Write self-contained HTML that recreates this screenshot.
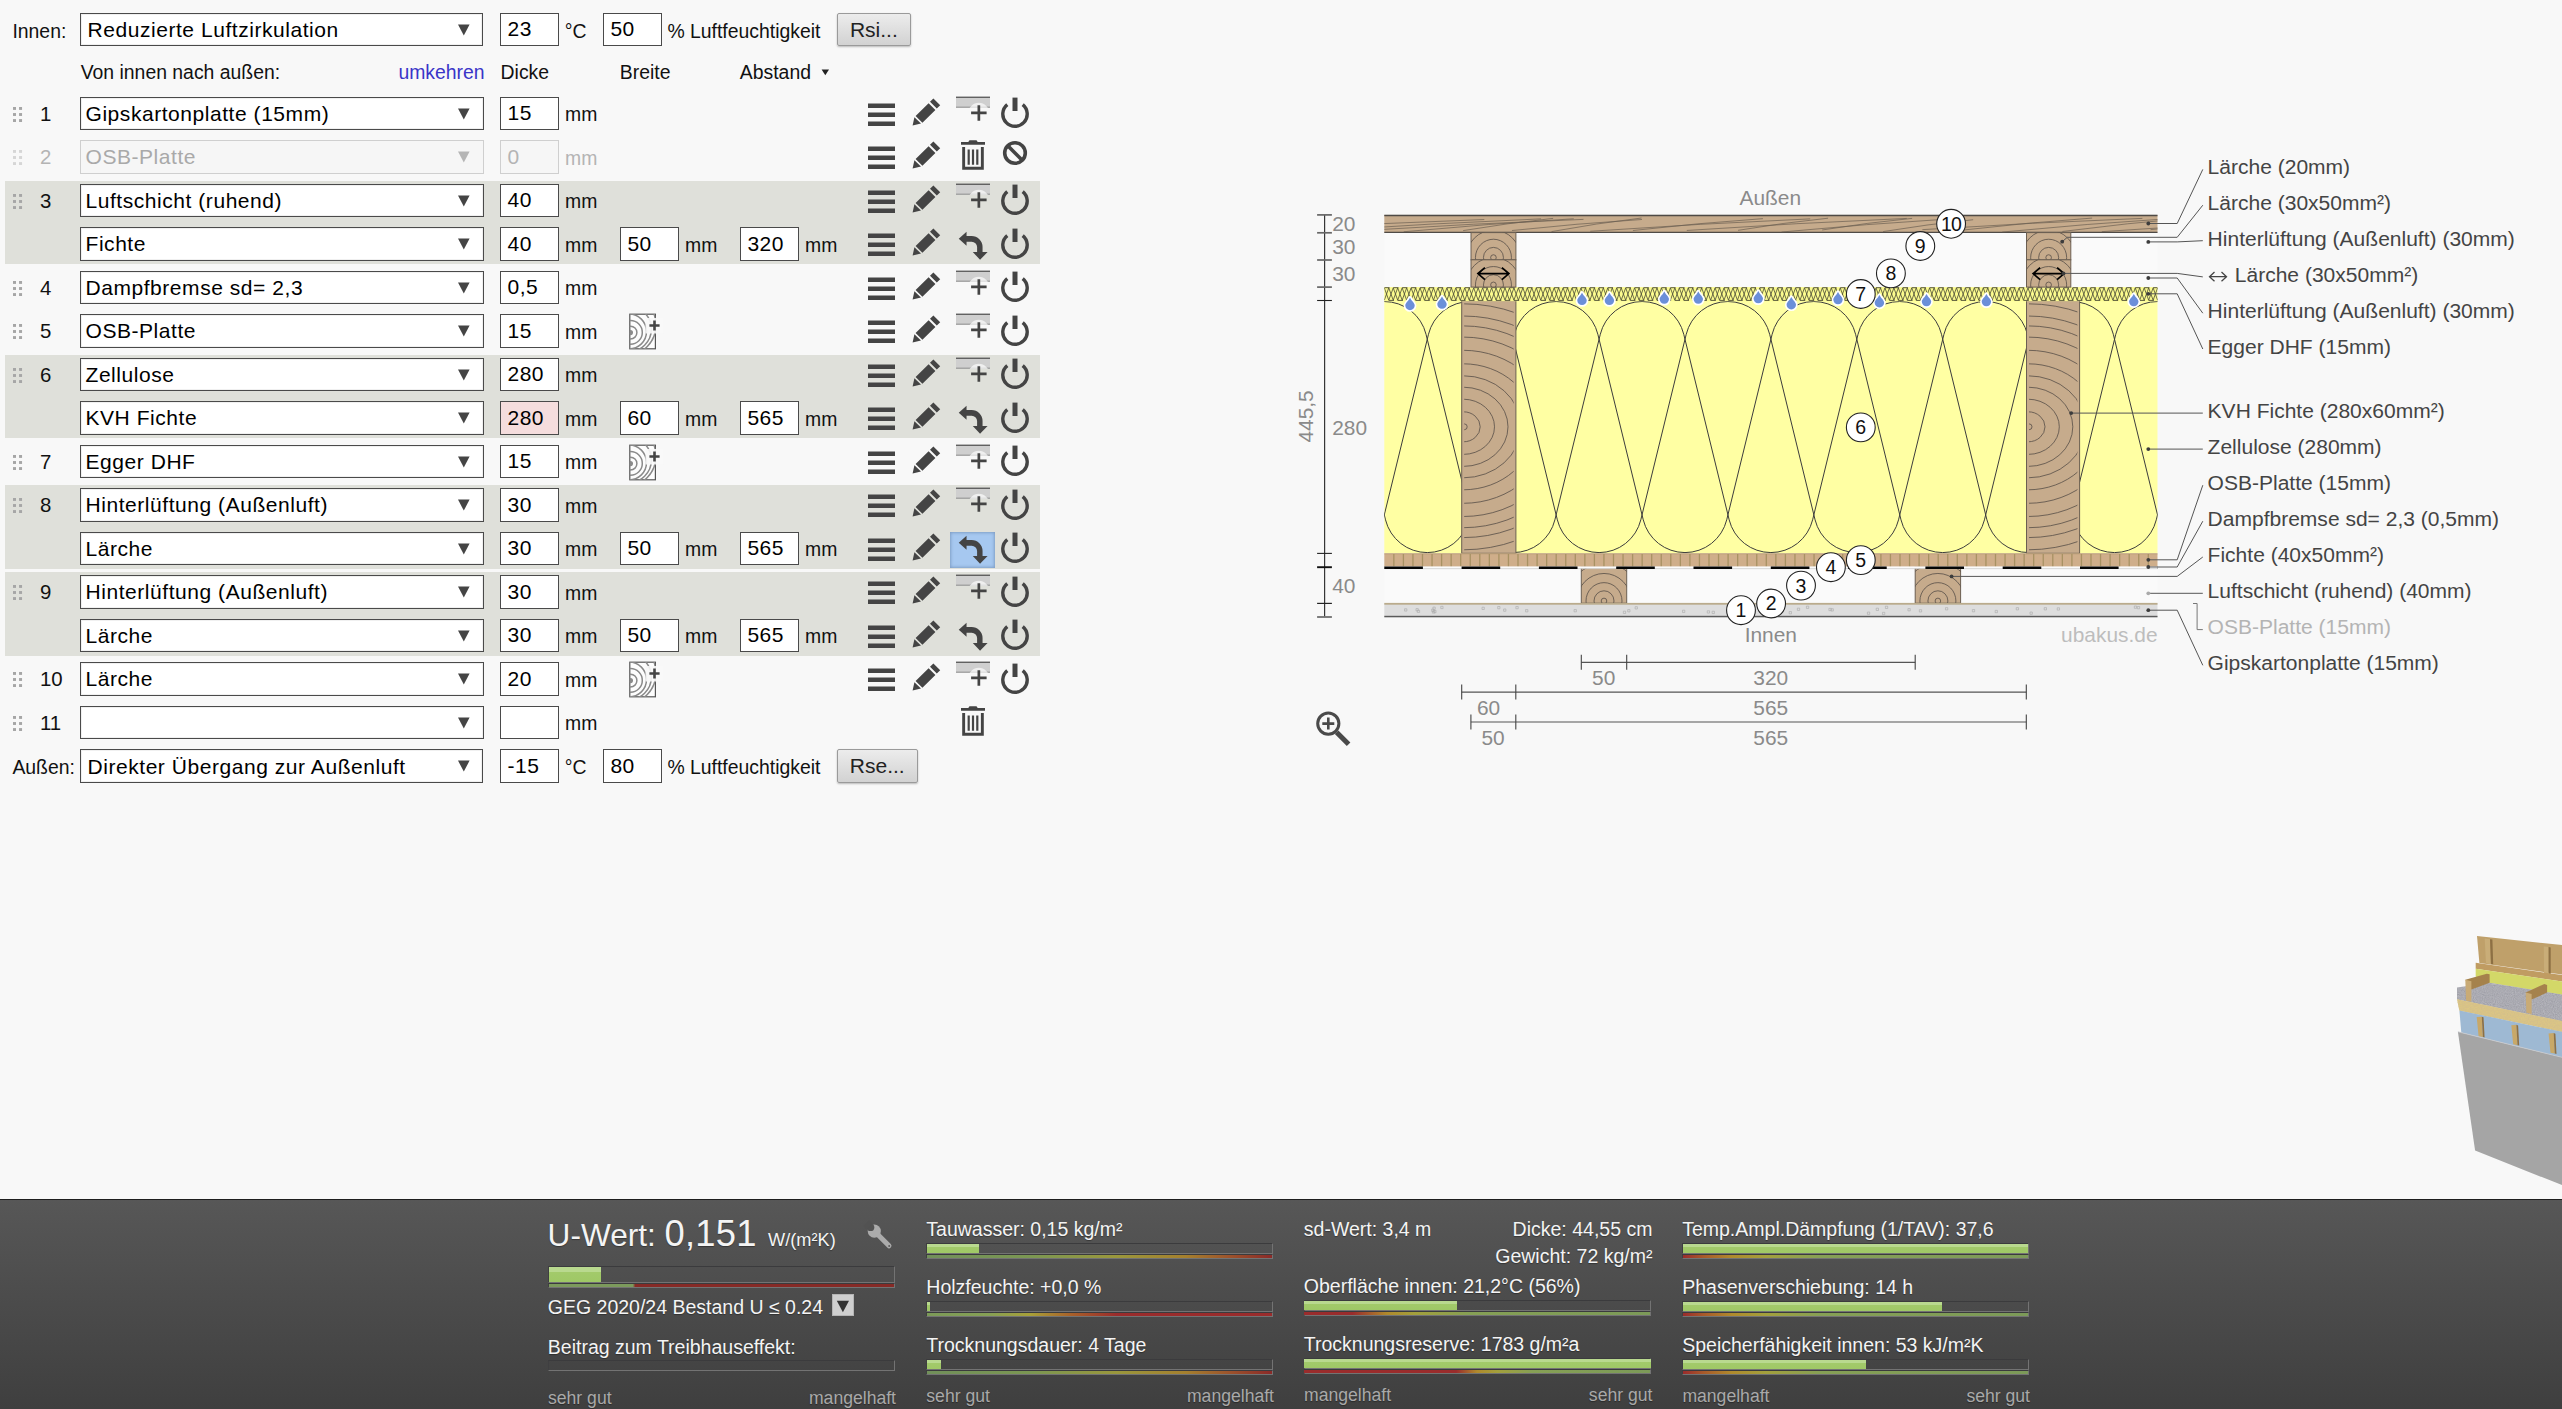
<!DOCTYPE html>
<html><head><meta charset="utf-8"><title>ubakus</title>
<style>
html,body{margin:0;padding:0}
body{width:2562px;height:1409px;overflow:hidden;position:relative;background:#f8f8f8;font-family:"Liberation Sans",sans-serif}

.ic{position:absolute;display:block;overflow:visible}
.lb{position:absolute;height:30px;line-height:30px;font-size:19.4px;color:#111;white-space:nowrap}
.lb.mm{color:#111}
.lb.num{font-size:20.4px}
.lb.disl{color:#b4b4b4}
.lb.link{color:#3a35c8}
.st{position:relative;top:0.8px}
.sel{position:absolute;box-sizing:border-box;border:1px solid #4a4a4a;background:#fff;font-size:21px;letter-spacing:0.55px;color:#000;white-space:nowrap;overflow:hidden;box-shadow:inset 0 0 0 1px #f0f0f0}
.sel.dis{border-color:#cfcfcf;background:#f6f6f6;color:#a9a9a9;box-shadow:none}
.inp{position:absolute;box-sizing:border-box;border:1px solid #4a4a4a;background:#fff;font-size:21px;letter-spacing:0.45px;color:#000;padding-left:6.6px;white-space:nowrap;overflow:hidden}
.inp.dis{border-color:#cfcfcf;background:#f6f6f6;color:#b4b4b4}
.inp.pink{background:#f5dddd}
.btn{position:absolute;box-sizing:border-box;border:1px solid #9a9a9a;border-radius:2px;background:linear-gradient(#ececec,#d2d2d2);font-size:21px;color:#222;text-align:center;box-shadow:0 1px 2px rgba(0,0,0,.25)}
.grp{position:absolute;left:5px;width:1034.7px;height:83.6px;background:#dfe0da}
.hl{position:absolute;width:44.8px;height:35.8px;background:#a6c8f0;box-shadow:inset 0 0 3px 1px #7f9fc6}


#bb{position:absolute;left:0;top:1199.4px;width:2562px;height:210px;background:linear-gradient(#575757,#3f3f3f);border-top:1.6px solid #1e1e1e;box-sizing:border-box}
.bt{position:absolute;height:30px;line-height:30px;white-space:nowrap;text-shadow:0 1px 1px rgba(0,0,0,.35)}
.bx{position:absolute}
.bo{position:absolute;left:0;top:0;width:100%;box-sizing:border-box;border-top:1px solid #3b3b3d;border-left:0.8px solid #3f3f41;border-bottom:0.9px solid #737373;border-right:1px solid #737373}
.bf{position:absolute;background:linear-gradient(#b9d98f 0,#b9d98f 30%,#a2ca6a 36%,#9fc866 100%)}
.bg{position:absolute;left:0.8px;right:1px}

</style></head><body>
<div class="lb" style="left:12.4px;top:15.5px;">Innen:</div>
<div class="sel" style="left:80px;top:12.80px;width:402.8px;height:33.6px;line-height:31px;padding-left:6.5px"><span class="st" style="top:0.6px">Reduzierte Luftzirkulation</span><svg style="position:absolute;left:375.59999999999997px;top:9.90px" width="14" height="12" viewBox="0 0 14 12"><path d="M1 0.6h11.6L6.8 11.6z" fill="#444"/></svg></div>
<div class="inp" style="left:500px;top:12.80px;width:59px;height:33.6px;line-height:31px"><span class="st" style="top:-0.5px">23</span></div>
<div class="lb" style="left:564.7px;top:15.5px;">°C</div>
<div class="inp" style="left:602.8px;top:12.80px;width:59px;height:33.6px;line-height:31px"><span class="st" style="top:-0.5px">50</span></div>
<div class="lb" style="left:667.4px;top:15.5px;">% Luftfeuchtigkeit</div>
<div class="btn" style="left:837px;top:12.600000000000001px;width:73.6px;height:33.8px;line-height:32.6px">Rsi...</div>
<div class="lb" style="left:80.7px;top:57px;">Von innen nach außen:</div>
<div class="lb link" style="left:398.4px;top:57px;">umkehren</div>
<div class="lb" style="left:500.6px;top:57px;">Dicke</div>
<div class="lb" style="left:619.8px;top:57px;">Breite</div>
<div class="lb" style="left:739.8px;top:57px;">Abstand</div>
<svg class="ic" style="left:821px;top:68.5px" width="9" height="7" viewBox="0 0 9 7"><path d="M0.6 0.6h7.4L4.3 6.2z" fill="#222"/></svg>
<svg class="ic" style="left:12.95px;top:106.60px" width="10" height="16" viewBox="0 0 10 16"><rect x="0.0" y="0.0" width="3" height="2.9" fill="#a6a6a6"/><rect x="6.05" y="0.0" width="3" height="2.9" fill="#a6a6a6"/><rect x="0.0" y="6.05" width="3" height="2.9" fill="#a6a6a6"/><rect x="6.05" y="6.05" width="3" height="2.9" fill="#a6a6a6"/><rect x="0.0" y="12.1" width="3" height="2.9" fill="#a6a6a6"/><rect x="6.05" y="12.1" width="3" height="2.9" fill="#a6a6a6"/></svg>
<div class="lb num" style="left:40px;top:98.6px;">1</div>
<div class="sel" style="left:80px;top:96.80px;width:403.7px;height:33.6px;line-height:31px;padding-left:4.5px"><span class="st" style="top:-0.1px">Gipskartonplatte (15mm)</span><svg style="position:absolute;left:375.59999999999997px;top:9.90px" width="14" height="12" viewBox="0 0 14 12"><path d="M1 0.6h11.6L6.8 11.6z" fill="#444"/></svg></div>
<div class="inp" style="left:500px;top:96.80px;width:59px;height:33.6px;line-height:31px"><span class="st" style="top:-0.5px">15</span></div>
<div class="lb mm" style="left:565px;top:99.1px;">mm</div>
<svg class="ic" style="left:867.0px;top:98.65px" width="29" height="30" viewBox="0 0 29 30"><path d="M1 4.5h27v4.6H1zM1 13.5h27v4.6H1zM1 22.5h27v4.6H1z" fill="#444"/></svg>
<svg class="ic" style="left:910.7px;top:96.5px" width="30" height="30" viewBox="0 0 30 30"><path d="M1.6 28.4 L3.4 20.3 L10 26.5 Z M4.6 19 L17.6 6.2 L24.4 13 L11.4 25.8 Z M19 4.8 L22.4 1.4 L29.2 8.2 L25.8 11.6 Z" fill="#444"/></svg>
<svg class="ic" style="left:955px;top:95.7px" width="36" height="30" viewBox="0 0 36 30"><rect x="1" y="1.2" width="34" height="10.3" fill="#cfcfcf"/><rect x="1" y="0.6" width="34" height="1.3" fill="#555"/><rect x="1" y="10.6" width="34" height="1.2" fill="#999"/><clipPath id="sl1"><rect x="1" y="1.9" width="34" height="10"/></clipPath><circle cx="23.8" cy="17.4" r="10.6" fill="#fff" fill-opacity="0.66" clip-path="url(#sl1)"/><path d="M22.5 9.2h2.7v6.4h6.4v2.7h-6.4v6.4h-2.7v-6.4h-6.4v-2.7h6.4z" fill="#444"/></svg>
<svg class="ic" style="left:999px;top:97.3px" width="32" height="34" viewBox="0 0 32 34"><path d="M8.3 7.6 A12.2 12.2 0 1 0 23.7 7.6" fill="none" stroke="#444" stroke-width="3.4"/><rect x="13.5" y="0.6" width="5" height="13.4" fill="#444"/></svg>
<svg class="ic" style="left:12.95px;top:150.10px" width="10" height="16" viewBox="0 0 10 16"><rect x="0.0" y="0.0" width="3" height="2.9" fill="#d6d6d6"/><rect x="6.05" y="0.0" width="3" height="2.9" fill="#d6d6d6"/><rect x="0.0" y="6.05" width="3" height="2.9" fill="#d6d6d6"/><rect x="6.05" y="6.05" width="3" height="2.9" fill="#d6d6d6"/><rect x="0.0" y="12.1" width="3" height="2.9" fill="#d6d6d6"/><rect x="6.05" y="12.1" width="3" height="2.9" fill="#d6d6d6"/></svg>
<div class="lb num disl" style="left:40px;top:142.1px;">2</div>
<div class="sel dis" style="left:80px;top:140.30px;width:403.7px;height:33.6px;line-height:31px;padding-left:4.5px"><span class="st" style="top:-0.1px">OSB-Platte</span><svg style="position:absolute;left:375.59999999999997px;top:9.90px" width="14" height="12" viewBox="0 0 14 12"><path d="M1 0.6h11.6L6.8 11.6z" fill="#b5b5b5"/></svg></div>
<div class="inp dis" style="left:500px;top:140.30px;width:59px;height:33.6px;line-height:31px"><span class="st" style="top:-0.5px">0</span></div>
<div class="lb mm disl" style="left:565px;top:142.6px;">mm</div>
<svg class="ic" style="left:867.0px;top:142.15px" width="29" height="30" viewBox="0 0 29 30"><path d="M1 4.5h27v4.6H1zM1 13.5h27v4.6H1zM1 22.5h27v4.6H1z" fill="#444"/></svg>
<svg class="ic" style="left:910.7px;top:140.0px" width="30" height="30" viewBox="0 0 30 30"><path d="M1.6 28.4 L3.4 20.3 L10 26.5 Z M4.6 19 L17.6 6.2 L24.4 13 L11.4 25.8 Z M19 4.8 L22.4 1.4 L29.2 8.2 L25.8 11.6 Z" fill="#444"/></svg>
<svg class="ic" style="left:960px;top:139.3px" width="26" height="32" viewBox="0 0 26 32"><path d="M9.5 1.2h7l1.2 1.8h7.3v2.8H1V3h7.3z M2.2 8h2.9v19.8h15.8V8h2.9v22.8H2.2z M7.6 10.5h2.2v15.2H7.6z M11.9 10.5h2.2v15.2h-2.2z M16.2 10.5h2.2v15.2h-2.2z" fill="#444"/></svg>
<svg class="ic" style="left:1002px;top:140.2px" width="26" height="26" viewBox="0 0 26 26"><circle cx="13" cy="13" r="10.3" fill="none" stroke="#444" stroke-width="3.6"/><path d="M5.8 5.8L20.2 20.2" stroke="#444" stroke-width="3.6"/></svg>
<div class="grp" style="top:180.80px"></div>
<svg class="ic" style="left:12.95px;top:193.60px" width="10" height="16" viewBox="0 0 10 16"><rect x="0.0" y="0.0" width="3" height="2.9" fill="#a6a6a6"/><rect x="6.05" y="0.0" width="3" height="2.9" fill="#a6a6a6"/><rect x="0.0" y="6.05" width="3" height="2.9" fill="#a6a6a6"/><rect x="6.05" y="6.05" width="3" height="2.9" fill="#a6a6a6"/><rect x="0.0" y="12.1" width="3" height="2.9" fill="#a6a6a6"/><rect x="6.05" y="12.1" width="3" height="2.9" fill="#a6a6a6"/></svg>
<div class="lb num" style="left:40px;top:185.6px;">3</div>
<div class="sel" style="left:80px;top:183.80px;width:403.7px;height:33.6px;line-height:31px;padding-left:4.5px"><span class="st" style="top:-0.1px">Luftschicht (ruhend)</span><svg style="position:absolute;left:375.59999999999997px;top:9.90px" width="14" height="12" viewBox="0 0 14 12"><path d="M1 0.6h11.6L6.8 11.6z" fill="#444"/></svg></div>
<div class="inp" style="left:500px;top:183.80px;width:59px;height:33.6px;line-height:31px"><span class="st" style="top:-0.5px">40</span></div>
<div class="lb mm" style="left:565px;top:186.1px;">mm</div>
<svg class="ic" style="left:867.0px;top:185.65px" width="29" height="30" viewBox="0 0 29 30"><path d="M1 4.5h27v4.6H1zM1 13.5h27v4.6H1zM1 22.5h27v4.6H1z" fill="#444"/></svg>
<svg class="ic" style="left:910.7px;top:183.5px" width="30" height="30" viewBox="0 0 30 30"><path d="M1.6 28.4 L3.4 20.3 L10 26.5 Z M4.6 19 L17.6 6.2 L24.4 13 L11.4 25.8 Z M19 4.8 L22.4 1.4 L29.2 8.2 L25.8 11.6 Z" fill="#444"/></svg>
<svg class="ic" style="left:955px;top:182.7px" width="36" height="30" viewBox="0 0 36 30"><rect x="1" y="1.2" width="34" height="10.3" fill="#cfcfcf"/><rect x="1" y="0.6" width="34" height="1.3" fill="#555"/><rect x="1" y="10.6" width="34" height="1.2" fill="#999"/><clipPath id="sl2"><rect x="1" y="1.9" width="34" height="10"/></clipPath><circle cx="23.8" cy="17.4" r="10.6" fill="#fff" fill-opacity="0.66" clip-path="url(#sl2)"/><path d="M22.5 9.2h2.7v6.4h6.4v2.7h-6.4v6.4h-2.7v-6.4h-6.4v-2.7h6.4z" fill="#444"/></svg>
<svg class="ic" style="left:999px;top:184.3px" width="32" height="34" viewBox="0 0 32 34"><path d="M8.3 7.6 A12.2 12.2 0 1 0 23.7 7.6" fill="none" stroke="#444" stroke-width="3.4"/><rect x="13.5" y="0.6" width="5" height="13.4" fill="#444"/></svg>
<div class="sel" style="left:80px;top:227.30px;width:403.7px;height:33.6px;line-height:31px;padding-left:4.5px"><span class="st" style="top:-0.1px">Fichte</span><svg style="position:absolute;left:375.59999999999997px;top:9.90px" width="14" height="12" viewBox="0 0 14 12"><path d="M1 0.6h11.6L6.8 11.6z" fill="#444"/></svg></div>
<div class="inp" style="left:500px;top:227.30px;width:59px;height:33.6px;line-height:31px"><span class="st" style="top:-0.5px">40</span></div>
<div class="lb mm" style="left:565px;top:229.6px;">mm</div>
<div class="inp" style="left:619.8px;top:227.30px;width:59px;height:33.6px;line-height:31px"><span class="st" style="top:-0.5px">50</span></div>
<div class="lb mm" style="left:685px;top:229.6px;">mm</div>
<div class="inp" style="left:739.8px;top:227.30px;width:59px;height:33.6px;line-height:31px"><span class="st" style="top:-0.5px">320</span></div>
<div class="lb mm" style="left:805px;top:229.6px;">mm</div>
<svg class="ic" style="left:867.0px;top:229.15px" width="29" height="30" viewBox="0 0 29 30"><path d="M1 4.5h27v4.6H1zM1 13.5h27v4.6H1zM1 22.5h27v4.6H1z" fill="#444"/></svg>
<svg class="ic" style="left:910.7px;top:227.0px" width="30" height="30" viewBox="0 0 30 30"><path d="M1.6 28.4 L3.4 20.3 L10 26.5 Z M4.6 19 L17.6 6.2 L24.4 13 L11.4 25.8 Z M19 4.8 L22.4 1.4 L29.2 8.2 L25.8 11.6 Z" fill="#444"/></svg>
<svg class="ic" style="left:950.2px;top:227.50px" width="45" height="36" viewBox="0 0 45 36"><path d="M8.74 10.77 L16.55 3.75 L16.55 8.04 L21.6 8.04 A10.95 10.95 0 0 1 32.55 19 L32.55 24.04 L37.6 24.04 L30.05 31.85 L22.8 24.04 L27.09 24.04 L27.09 19 A5.45 5.45 0 0 0 21.6 13.66 L16.55 13.66 L16.55 17.8 Z" fill="#444"/></svg>
<svg class="ic" style="left:999px;top:227.8px" width="32" height="34" viewBox="0 0 32 34"><path d="M8.3 7.6 A12.2 12.2 0 1 0 23.7 7.6" fill="none" stroke="#444" stroke-width="3.4"/><rect x="13.5" y="0.6" width="5" height="13.4" fill="#444"/></svg>
<svg class="ic" style="left:12.95px;top:280.60px" width="10" height="16" viewBox="0 0 10 16"><rect x="0.0" y="0.0" width="3" height="2.9" fill="#a6a6a6"/><rect x="6.05" y="0.0" width="3" height="2.9" fill="#a6a6a6"/><rect x="0.0" y="6.05" width="3" height="2.9" fill="#a6a6a6"/><rect x="6.05" y="6.05" width="3" height="2.9" fill="#a6a6a6"/><rect x="0.0" y="12.1" width="3" height="2.9" fill="#a6a6a6"/><rect x="6.05" y="12.1" width="3" height="2.9" fill="#a6a6a6"/></svg>
<div class="lb num" style="left:40px;top:272.6px;">4</div>
<div class="sel" style="left:80px;top:270.80px;width:403.7px;height:33.6px;line-height:31px;padding-left:4.5px"><span class="st" style="top:-0.1px">Dampfbremse sd= 2,3</span><svg style="position:absolute;left:375.59999999999997px;top:9.90px" width="14" height="12" viewBox="0 0 14 12"><path d="M1 0.6h11.6L6.8 11.6z" fill="#444"/></svg></div>
<div class="inp" style="left:500px;top:270.80px;width:59px;height:33.6px;line-height:31px"><span class="st" style="top:-0.5px">0,5</span></div>
<div class="lb mm" style="left:565px;top:273.1px;">mm</div>
<svg class="ic" style="left:867.0px;top:272.65px" width="29" height="30" viewBox="0 0 29 30"><path d="M1 4.5h27v4.6H1zM1 13.5h27v4.6H1zM1 22.5h27v4.6H1z" fill="#444"/></svg>
<svg class="ic" style="left:910.7px;top:270.5px" width="30" height="30" viewBox="0 0 30 30"><path d="M1.6 28.4 L3.4 20.3 L10 26.5 Z M4.6 19 L17.6 6.2 L24.4 13 L11.4 25.8 Z M19 4.8 L22.4 1.4 L29.2 8.2 L25.8 11.6 Z" fill="#444"/></svg>
<svg class="ic" style="left:955px;top:269.7px" width="36" height="30" viewBox="0 0 36 30"><rect x="1" y="1.2" width="34" height="10.3" fill="#cfcfcf"/><rect x="1" y="0.6" width="34" height="1.3" fill="#555"/><rect x="1" y="10.6" width="34" height="1.2" fill="#999"/><clipPath id="sl3"><rect x="1" y="1.9" width="34" height="10"/></clipPath><circle cx="23.8" cy="17.4" r="10.6" fill="#fff" fill-opacity="0.66" clip-path="url(#sl3)"/><path d="M22.5 9.2h2.7v6.4h6.4v2.7h-6.4v6.4h-2.7v-6.4h-6.4v-2.7h6.4z" fill="#444"/></svg>
<svg class="ic" style="left:999px;top:271.3px" width="32" height="34" viewBox="0 0 32 34"><path d="M8.3 7.6 A12.2 12.2 0 1 0 23.7 7.6" fill="none" stroke="#444" stroke-width="3.4"/><rect x="13.5" y="0.6" width="5" height="13.4" fill="#444"/></svg>
<svg class="ic" style="left:12.95px;top:324.10px" width="10" height="16" viewBox="0 0 10 16"><rect x="0.0" y="0.0" width="3" height="2.9" fill="#a6a6a6"/><rect x="6.05" y="0.0" width="3" height="2.9" fill="#a6a6a6"/><rect x="0.0" y="6.05" width="3" height="2.9" fill="#a6a6a6"/><rect x="6.05" y="6.05" width="3" height="2.9" fill="#a6a6a6"/><rect x="0.0" y="12.1" width="3" height="2.9" fill="#a6a6a6"/><rect x="6.05" y="12.1" width="3" height="2.9" fill="#a6a6a6"/></svg>
<div class="lb num" style="left:40px;top:316.1px;">5</div>
<div class="sel" style="left:80px;top:314.30px;width:403.7px;height:33.6px;line-height:31px;padding-left:4.5px"><span class="st" style="top:-0.1px">OSB-Platte</span><svg style="position:absolute;left:375.59999999999997px;top:9.90px" width="14" height="12" viewBox="0 0 14 12"><path d="M1 0.6h11.6L6.8 11.6z" fill="#444"/></svg></div>
<div class="inp" style="left:500px;top:314.30px;width:59px;height:33.6px;line-height:31px"><span class="st" style="top:-0.5px">15</span></div>
<div class="lb mm" style="left:565px;top:316.6px;">mm</div>
<svg class="ic" style="left:628.6px;top:313.2px" width="36" height="38" viewBox="0 0 36 38"><defs><clipPath id="wc4"><rect x="0.8" y="1" width="25.6" height="35"/></clipPath></defs><rect x="0.8" y="1.2" width="25.6" height="34.6" fill="#fdfdfd" stroke="#555" stroke-width="1.2"/><g clip-path="url(#wc4)" fill="none" stroke="#8a8a8a" stroke-width="1.5"><circle cx="1.5" cy="19.6" r="1.8" fill="#8a8a8a"/><circle cx="1.5" cy="19.6" r="6.4"/><circle cx="1.5" cy="19.4" r="11.8"/><ellipse cx="0" cy="18.5" rx="17.5" ry="17.5"/><ellipse cx="-1" cy="16" rx="23.4" ry="23"/><ellipse cx="-2" cy="12" rx="29" ry="30"/></g><rect x="16.5" y="5" width="18" height="15.5" fill="#f8f8f8" fill-opacity="0.9"/><path d="M24.2 7.4h2.6v3.8h3.8v2.6h-3.8v3.8h-2.6v-3.8h-3.8v-2.6h3.8z" fill="#444"/></svg>
<svg class="ic" style="left:867.0px;top:316.15px" width="29" height="30" viewBox="0 0 29 30"><path d="M1 4.5h27v4.6H1zM1 13.5h27v4.6H1zM1 22.5h27v4.6H1z" fill="#444"/></svg>
<svg class="ic" style="left:910.7px;top:314.0px" width="30" height="30" viewBox="0 0 30 30"><path d="M1.6 28.4 L3.4 20.3 L10 26.5 Z M4.6 19 L17.6 6.2 L24.4 13 L11.4 25.8 Z M19 4.8 L22.4 1.4 L29.2 8.2 L25.8 11.6 Z" fill="#444"/></svg>
<svg class="ic" style="left:955px;top:313.2px" width="36" height="30" viewBox="0 0 36 30"><rect x="1" y="1.2" width="34" height="10.3" fill="#cfcfcf"/><rect x="1" y="0.6" width="34" height="1.3" fill="#555"/><rect x="1" y="10.6" width="34" height="1.2" fill="#999"/><clipPath id="sl5"><rect x="1" y="1.9" width="34" height="10"/></clipPath><circle cx="23.8" cy="17.4" r="10.6" fill="#fff" fill-opacity="0.66" clip-path="url(#sl5)"/><path d="M22.5 9.2h2.7v6.4h6.4v2.7h-6.4v6.4h-2.7v-6.4h-6.4v-2.7h6.4z" fill="#444"/></svg>
<svg class="ic" style="left:999px;top:314.8px" width="32" height="34" viewBox="0 0 32 34"><path d="M8.3 7.6 A12.2 12.2 0 1 0 23.7 7.6" fill="none" stroke="#444" stroke-width="3.4"/><rect x="13.5" y="0.6" width="5" height="13.4" fill="#444"/></svg>
<div class="grp" style="top:354.80px"></div>
<svg class="ic" style="left:12.95px;top:367.60px" width="10" height="16" viewBox="0 0 10 16"><rect x="0.0" y="0.0" width="3" height="2.9" fill="#a6a6a6"/><rect x="6.05" y="0.0" width="3" height="2.9" fill="#a6a6a6"/><rect x="0.0" y="6.05" width="3" height="2.9" fill="#a6a6a6"/><rect x="6.05" y="6.05" width="3" height="2.9" fill="#a6a6a6"/><rect x="0.0" y="12.1" width="3" height="2.9" fill="#a6a6a6"/><rect x="6.05" y="12.1" width="3" height="2.9" fill="#a6a6a6"/></svg>
<div class="lb num" style="left:40px;top:359.6px;">6</div>
<div class="sel" style="left:80px;top:357.80px;width:403.7px;height:33.6px;line-height:31px;padding-left:4.5px"><span class="st" style="top:-0.1px">Zellulose</span><svg style="position:absolute;left:375.59999999999997px;top:9.90px" width="14" height="12" viewBox="0 0 14 12"><path d="M1 0.6h11.6L6.8 11.6z" fill="#444"/></svg></div>
<div class="inp" style="left:500px;top:357.80px;width:59px;height:33.6px;line-height:31px"><span class="st" style="top:-0.5px">280</span></div>
<div class="lb mm" style="left:565px;top:360.1px;">mm</div>
<svg class="ic" style="left:867.0px;top:359.65px" width="29" height="30" viewBox="0 0 29 30"><path d="M1 4.5h27v4.6H1zM1 13.5h27v4.6H1zM1 22.5h27v4.6H1z" fill="#444"/></svg>
<svg class="ic" style="left:910.7px;top:357.5px" width="30" height="30" viewBox="0 0 30 30"><path d="M1.6 28.4 L3.4 20.3 L10 26.5 Z M4.6 19 L17.6 6.2 L24.4 13 L11.4 25.8 Z M19 4.8 L22.4 1.4 L29.2 8.2 L25.8 11.6 Z" fill="#444"/></svg>
<svg class="ic" style="left:955px;top:356.7px" width="36" height="30" viewBox="0 0 36 30"><rect x="1" y="1.2" width="34" height="10.3" fill="#cfcfcf"/><rect x="1" y="0.6" width="34" height="1.3" fill="#555"/><rect x="1" y="10.6" width="34" height="1.2" fill="#999"/><clipPath id="sl6"><rect x="1" y="1.9" width="34" height="10"/></clipPath><circle cx="23.8" cy="17.4" r="10.6" fill="#fff" fill-opacity="0.66" clip-path="url(#sl6)"/><path d="M22.5 9.2h2.7v6.4h6.4v2.7h-6.4v6.4h-2.7v-6.4h-6.4v-2.7h6.4z" fill="#444"/></svg>
<svg class="ic" style="left:999px;top:358.3px" width="32" height="34" viewBox="0 0 32 34"><path d="M8.3 7.6 A12.2 12.2 0 1 0 23.7 7.6" fill="none" stroke="#444" stroke-width="3.4"/><rect x="13.5" y="0.6" width="5" height="13.4" fill="#444"/></svg>
<div class="sel" style="left:80px;top:401.30px;width:403.7px;height:33.6px;line-height:31px;padding-left:4.5px"><span class="st" style="top:-0.1px">KVH Fichte</span><svg style="position:absolute;left:375.59999999999997px;top:9.90px" width="14" height="12" viewBox="0 0 14 12"><path d="M1 0.6h11.6L6.8 11.6z" fill="#444"/></svg></div>
<div class="inp pink" style="left:500px;top:401.30px;width:59px;height:33.6px;line-height:31px"><span class="st" style="top:-0.5px">280</span></div>
<div class="lb mm" style="left:565px;top:403.6px;">mm</div>
<div class="inp" style="left:619.8px;top:401.30px;width:59px;height:33.6px;line-height:31px"><span class="st" style="top:-0.5px">60</span></div>
<div class="lb mm" style="left:685px;top:403.6px;">mm</div>
<div class="inp" style="left:739.8px;top:401.30px;width:59px;height:33.6px;line-height:31px"><span class="st" style="top:-0.5px">565</span></div>
<div class="lb mm" style="left:805px;top:403.6px;">mm</div>
<svg class="ic" style="left:867.0px;top:403.15px" width="29" height="30" viewBox="0 0 29 30"><path d="M1 4.5h27v4.6H1zM1 13.5h27v4.6H1zM1 22.5h27v4.6H1z" fill="#444"/></svg>
<svg class="ic" style="left:910.7px;top:401.0px" width="30" height="30" viewBox="0 0 30 30"><path d="M1.6 28.4 L3.4 20.3 L10 26.5 Z M4.6 19 L17.6 6.2 L24.4 13 L11.4 25.8 Z M19 4.8 L22.4 1.4 L29.2 8.2 L25.8 11.6 Z" fill="#444"/></svg>
<svg class="ic" style="left:950.2px;top:401.50px" width="45" height="36" viewBox="0 0 45 36"><path d="M8.74 10.77 L16.55 3.75 L16.55 8.04 L21.6 8.04 A10.95 10.95 0 0 1 32.55 19 L32.55 24.04 L37.6 24.04 L30.05 31.85 L22.8 24.04 L27.09 24.04 L27.09 19 A5.45 5.45 0 0 0 21.6 13.66 L16.55 13.66 L16.55 17.8 Z" fill="#444"/></svg>
<svg class="ic" style="left:999px;top:401.8px" width="32" height="34" viewBox="0 0 32 34"><path d="M8.3 7.6 A12.2 12.2 0 1 0 23.7 7.6" fill="none" stroke="#444" stroke-width="3.4"/><rect x="13.5" y="0.6" width="5" height="13.4" fill="#444"/></svg>
<svg class="ic" style="left:12.95px;top:454.60px" width="10" height="16" viewBox="0 0 10 16"><rect x="0.0" y="0.0" width="3" height="2.9" fill="#a6a6a6"/><rect x="6.05" y="0.0" width="3" height="2.9" fill="#a6a6a6"/><rect x="0.0" y="6.05" width="3" height="2.9" fill="#a6a6a6"/><rect x="6.05" y="6.05" width="3" height="2.9" fill="#a6a6a6"/><rect x="0.0" y="12.1" width="3" height="2.9" fill="#a6a6a6"/><rect x="6.05" y="12.1" width="3" height="2.9" fill="#a6a6a6"/></svg>
<div class="lb num" style="left:40px;top:446.6px;">7</div>
<div class="sel" style="left:80px;top:444.80px;width:403.7px;height:33.6px;line-height:31px;padding-left:4.5px"><span class="st" style="top:-0.1px">Egger DHF</span><svg style="position:absolute;left:375.59999999999997px;top:9.90px" width="14" height="12" viewBox="0 0 14 12"><path d="M1 0.6h11.6L6.8 11.6z" fill="#444"/></svg></div>
<div class="inp" style="left:500px;top:444.80px;width:59px;height:33.6px;line-height:31px"><span class="st" style="top:-0.5px">15</span></div>
<div class="lb mm" style="left:565px;top:447.1px;">mm</div>
<svg class="ic" style="left:628.6px;top:443.7px" width="36" height="38" viewBox="0 0 36 38"><defs><clipPath id="wc7"><rect x="0.8" y="1" width="25.6" height="35"/></clipPath></defs><rect x="0.8" y="1.2" width="25.6" height="34.6" fill="#fdfdfd" stroke="#555" stroke-width="1.2"/><g clip-path="url(#wc7)" fill="none" stroke="#8a8a8a" stroke-width="1.5"><circle cx="1.5" cy="19.6" r="1.8" fill="#8a8a8a"/><circle cx="1.5" cy="19.6" r="6.4"/><circle cx="1.5" cy="19.4" r="11.8"/><ellipse cx="0" cy="18.5" rx="17.5" ry="17.5"/><ellipse cx="-1" cy="16" rx="23.4" ry="23"/><ellipse cx="-2" cy="12" rx="29" ry="30"/></g><rect x="16.5" y="5" width="18" height="15.5" fill="#f8f8f8" fill-opacity="0.9"/><path d="M24.2 7.4h2.6v3.8h3.8v2.6h-3.8v3.8h-2.6v-3.8h-3.8v-2.6h3.8z" fill="#444"/></svg>
<svg class="ic" style="left:867.0px;top:446.65px" width="29" height="30" viewBox="0 0 29 30"><path d="M1 4.5h27v4.6H1zM1 13.5h27v4.6H1zM1 22.5h27v4.6H1z" fill="#444"/></svg>
<svg class="ic" style="left:910.7px;top:444.5px" width="30" height="30" viewBox="0 0 30 30"><path d="M1.6 28.4 L3.4 20.3 L10 26.5 Z M4.6 19 L17.6 6.2 L24.4 13 L11.4 25.8 Z M19 4.8 L22.4 1.4 L29.2 8.2 L25.8 11.6 Z" fill="#444"/></svg>
<svg class="ic" style="left:955px;top:443.7px" width="36" height="30" viewBox="0 0 36 30"><rect x="1" y="1.2" width="34" height="10.3" fill="#cfcfcf"/><rect x="1" y="0.6" width="34" height="1.3" fill="#555"/><rect x="1" y="10.6" width="34" height="1.2" fill="#999"/><clipPath id="sl8"><rect x="1" y="1.9" width="34" height="10"/></clipPath><circle cx="23.8" cy="17.4" r="10.6" fill="#fff" fill-opacity="0.66" clip-path="url(#sl8)"/><path d="M22.5 9.2h2.7v6.4h6.4v2.7h-6.4v6.4h-2.7v-6.4h-6.4v-2.7h6.4z" fill="#444"/></svg>
<svg class="ic" style="left:999px;top:445.3px" width="32" height="34" viewBox="0 0 32 34"><path d="M8.3 7.6 A12.2 12.2 0 1 0 23.7 7.6" fill="none" stroke="#444" stroke-width="3.4"/><rect x="13.5" y="0.6" width="5" height="13.4" fill="#444"/></svg>
<div class="grp" style="top:485.30px"></div>
<svg class="ic" style="left:12.95px;top:498.10px" width="10" height="16" viewBox="0 0 10 16"><rect x="0.0" y="0.0" width="3" height="2.9" fill="#a6a6a6"/><rect x="6.05" y="0.0" width="3" height="2.9" fill="#a6a6a6"/><rect x="0.0" y="6.05" width="3" height="2.9" fill="#a6a6a6"/><rect x="6.05" y="6.05" width="3" height="2.9" fill="#a6a6a6"/><rect x="0.0" y="12.1" width="3" height="2.9" fill="#a6a6a6"/><rect x="6.05" y="12.1" width="3" height="2.9" fill="#a6a6a6"/></svg>
<div class="lb num" style="left:40px;top:490.1px;">8</div>
<div class="sel" style="left:80px;top:488.30px;width:403.7px;height:33.6px;line-height:31px;padding-left:4.5px"><span class="st" style="top:-0.1px">Hinterlüftung (Außenluft)</span><svg style="position:absolute;left:375.59999999999997px;top:9.90px" width="14" height="12" viewBox="0 0 14 12"><path d="M1 0.6h11.6L6.8 11.6z" fill="#444"/></svg></div>
<div class="inp" style="left:500px;top:488.30px;width:59px;height:33.6px;line-height:31px"><span class="st" style="top:-0.5px">30</span></div>
<div class="lb mm" style="left:565px;top:490.6px;">mm</div>
<svg class="ic" style="left:867.0px;top:490.15px" width="29" height="30" viewBox="0 0 29 30"><path d="M1 4.5h27v4.6H1zM1 13.5h27v4.6H1zM1 22.5h27v4.6H1z" fill="#444"/></svg>
<svg class="ic" style="left:910.7px;top:488.0px" width="30" height="30" viewBox="0 0 30 30"><path d="M1.6 28.4 L3.4 20.3 L10 26.5 Z M4.6 19 L17.6 6.2 L24.4 13 L11.4 25.8 Z M19 4.8 L22.4 1.4 L29.2 8.2 L25.8 11.6 Z" fill="#444"/></svg>
<svg class="ic" style="left:955px;top:487.2px" width="36" height="30" viewBox="0 0 36 30"><rect x="1" y="1.2" width="34" height="10.3" fill="#cfcfcf"/><rect x="1" y="0.6" width="34" height="1.3" fill="#555"/><rect x="1" y="10.6" width="34" height="1.2" fill="#999"/><clipPath id="sl9"><rect x="1" y="1.9" width="34" height="10"/></clipPath><circle cx="23.8" cy="17.4" r="10.6" fill="#fff" fill-opacity="0.66" clip-path="url(#sl9)"/><path d="M22.5 9.2h2.7v6.4h6.4v2.7h-6.4v6.4h-2.7v-6.4h-6.4v-2.7h6.4z" fill="#444"/></svg>
<svg class="ic" style="left:999px;top:488.8px" width="32" height="34" viewBox="0 0 32 34"><path d="M8.3 7.6 A12.2 12.2 0 1 0 23.7 7.6" fill="none" stroke="#444" stroke-width="3.4"/><rect x="13.5" y="0.6" width="5" height="13.4" fill="#444"/></svg>
<div class="sel" style="left:80px;top:531.80px;width:403.7px;height:33.6px;line-height:31px;padding-left:4.5px"><span class="st" style="top:-0.1px">Lärche</span><svg style="position:absolute;left:375.59999999999997px;top:9.90px" width="14" height="12" viewBox="0 0 14 12"><path d="M1 0.6h11.6L6.8 11.6z" fill="#444"/></svg></div>
<div class="inp" style="left:500px;top:531.80px;width:59px;height:33.6px;line-height:31px"><span class="st" style="top:-0.5px">30</span></div>
<div class="lb mm" style="left:565px;top:534.1px;">mm</div>
<div class="inp" style="left:619.8px;top:531.80px;width:59px;height:33.6px;line-height:31px"><span class="st" style="top:-0.5px">50</span></div>
<div class="lb mm" style="left:685px;top:534.1px;">mm</div>
<div class="inp" style="left:739.8px;top:531.80px;width:59px;height:33.6px;line-height:31px"><span class="st" style="top:-0.5px">565</span></div>
<div class="lb mm" style="left:805px;top:534.1px;">mm</div>
<svg class="ic" style="left:867.0px;top:533.65px" width="29" height="30" viewBox="0 0 29 30"><path d="M1 4.5h27v4.6H1zM1 13.5h27v4.6H1zM1 22.5h27v4.6H1z" fill="#444"/></svg>
<svg class="ic" style="left:910.7px;top:531.5px" width="30" height="30" viewBox="0 0 30 30"><path d="M1.6 28.4 L3.4 20.3 L10 26.5 Z M4.6 19 L17.6 6.2 L24.4 13 L11.4 25.8 Z M19 4.8 L22.4 1.4 L29.2 8.2 L25.8 11.6 Z" fill="#444"/></svg>
<div class="hl" style="left:950.2px;top:532.0px"></div>
<svg class="ic" style="left:950.2px;top:532.00px" width="45" height="36" viewBox="0 0 45 36"><path d="M8.74 10.77 L16.55 3.75 L16.55 8.04 L21.6 8.04 A10.95 10.95 0 0 1 32.55 19 L32.55 24.04 L37.6 24.04 L30.05 31.85 L22.8 24.04 L27.09 24.04 L27.09 19 A5.45 5.45 0 0 0 21.6 13.66 L16.55 13.66 L16.55 17.8 Z" fill="#444"/></svg>
<svg class="ic" style="left:999px;top:532.3px" width="32" height="34" viewBox="0 0 32 34"><path d="M8.3 7.6 A12.2 12.2 0 1 0 23.7 7.6" fill="none" stroke="#444" stroke-width="3.4"/><rect x="13.5" y="0.6" width="5" height="13.4" fill="#444"/></svg>
<div class="grp" style="top:572.30px"></div>
<svg class="ic" style="left:12.95px;top:585.10px" width="10" height="16" viewBox="0 0 10 16"><rect x="0.0" y="0.0" width="3" height="2.9" fill="#a6a6a6"/><rect x="6.05" y="0.0" width="3" height="2.9" fill="#a6a6a6"/><rect x="0.0" y="6.05" width="3" height="2.9" fill="#a6a6a6"/><rect x="6.05" y="6.05" width="3" height="2.9" fill="#a6a6a6"/><rect x="0.0" y="12.1" width="3" height="2.9" fill="#a6a6a6"/><rect x="6.05" y="12.1" width="3" height="2.9" fill="#a6a6a6"/></svg>
<div class="lb num" style="left:40px;top:577.1px;">9</div>
<div class="sel" style="left:80px;top:575.30px;width:403.7px;height:33.6px;line-height:31px;padding-left:4.5px"><span class="st" style="top:-0.1px">Hinterlüftung (Außenluft)</span><svg style="position:absolute;left:375.59999999999997px;top:9.90px" width="14" height="12" viewBox="0 0 14 12"><path d="M1 0.6h11.6L6.8 11.6z" fill="#444"/></svg></div>
<div class="inp" style="left:500px;top:575.30px;width:59px;height:33.6px;line-height:31px"><span class="st" style="top:-0.5px">30</span></div>
<div class="lb mm" style="left:565px;top:577.6px;">mm</div>
<svg class="ic" style="left:867.0px;top:577.15px" width="29" height="30" viewBox="0 0 29 30"><path d="M1 4.5h27v4.6H1zM1 13.5h27v4.6H1zM1 22.5h27v4.6H1z" fill="#444"/></svg>
<svg class="ic" style="left:910.7px;top:575.0px" width="30" height="30" viewBox="0 0 30 30"><path d="M1.6 28.4 L3.4 20.3 L10 26.5 Z M4.6 19 L17.6 6.2 L24.4 13 L11.4 25.8 Z M19 4.8 L22.4 1.4 L29.2 8.2 L25.8 11.6 Z" fill="#444"/></svg>
<svg class="ic" style="left:955px;top:574.2px" width="36" height="30" viewBox="0 0 36 30"><rect x="1" y="1.2" width="34" height="10.3" fill="#cfcfcf"/><rect x="1" y="0.6" width="34" height="1.3" fill="#555"/><rect x="1" y="10.6" width="34" height="1.2" fill="#999"/><clipPath id="sl10"><rect x="1" y="1.9" width="34" height="10"/></clipPath><circle cx="23.8" cy="17.4" r="10.6" fill="#fff" fill-opacity="0.66" clip-path="url(#sl10)"/><path d="M22.5 9.2h2.7v6.4h6.4v2.7h-6.4v6.4h-2.7v-6.4h-6.4v-2.7h6.4z" fill="#444"/></svg>
<svg class="ic" style="left:999px;top:575.8px" width="32" height="34" viewBox="0 0 32 34"><path d="M8.3 7.6 A12.2 12.2 0 1 0 23.7 7.6" fill="none" stroke="#444" stroke-width="3.4"/><rect x="13.5" y="0.6" width="5" height="13.4" fill="#444"/></svg>
<div class="sel" style="left:80px;top:618.80px;width:403.7px;height:33.6px;line-height:31px;padding-left:4.5px"><span class="st" style="top:-0.1px">Lärche</span><svg style="position:absolute;left:375.59999999999997px;top:9.90px" width="14" height="12" viewBox="0 0 14 12"><path d="M1 0.6h11.6L6.8 11.6z" fill="#444"/></svg></div>
<div class="inp" style="left:500px;top:618.80px;width:59px;height:33.6px;line-height:31px"><span class="st" style="top:-0.5px">30</span></div>
<div class="lb mm" style="left:565px;top:621.1px;">mm</div>
<div class="inp" style="left:619.8px;top:618.80px;width:59px;height:33.6px;line-height:31px"><span class="st" style="top:-0.5px">50</span></div>
<div class="lb mm" style="left:685px;top:621.1px;">mm</div>
<div class="inp" style="left:739.8px;top:618.80px;width:59px;height:33.6px;line-height:31px"><span class="st" style="top:-0.5px">565</span></div>
<div class="lb mm" style="left:805px;top:621.1px;">mm</div>
<svg class="ic" style="left:867.0px;top:620.65px" width="29" height="30" viewBox="0 0 29 30"><path d="M1 4.5h27v4.6H1zM1 13.5h27v4.6H1zM1 22.5h27v4.6H1z" fill="#444"/></svg>
<svg class="ic" style="left:910.7px;top:618.5px" width="30" height="30" viewBox="0 0 30 30"><path d="M1.6 28.4 L3.4 20.3 L10 26.5 Z M4.6 19 L17.6 6.2 L24.4 13 L11.4 25.8 Z M19 4.8 L22.4 1.4 L29.2 8.2 L25.8 11.6 Z" fill="#444"/></svg>
<svg class="ic" style="left:950.2px;top:619.00px" width="45" height="36" viewBox="0 0 45 36"><path d="M8.74 10.77 L16.55 3.75 L16.55 8.04 L21.6 8.04 A10.95 10.95 0 0 1 32.55 19 L32.55 24.04 L37.6 24.04 L30.05 31.85 L22.8 24.04 L27.09 24.04 L27.09 19 A5.45 5.45 0 0 0 21.6 13.66 L16.55 13.66 L16.55 17.8 Z" fill="#444"/></svg>
<svg class="ic" style="left:999px;top:619.3px" width="32" height="34" viewBox="0 0 32 34"><path d="M8.3 7.6 A12.2 12.2 0 1 0 23.7 7.6" fill="none" stroke="#444" stroke-width="3.4"/><rect x="13.5" y="0.6" width="5" height="13.4" fill="#444"/></svg>
<svg class="ic" style="left:12.95px;top:672.10px" width="10" height="16" viewBox="0 0 10 16"><rect x="0.0" y="0.0" width="3" height="2.9" fill="#a6a6a6"/><rect x="6.05" y="0.0" width="3" height="2.9" fill="#a6a6a6"/><rect x="0.0" y="6.05" width="3" height="2.9" fill="#a6a6a6"/><rect x="6.05" y="6.05" width="3" height="2.9" fill="#a6a6a6"/><rect x="0.0" y="12.1" width="3" height="2.9" fill="#a6a6a6"/><rect x="6.05" y="12.1" width="3" height="2.9" fill="#a6a6a6"/></svg>
<div class="lb num" style="left:40px;top:664.1px;">10</div>
<div class="sel" style="left:80px;top:662.30px;width:403.7px;height:33.6px;line-height:31px;padding-left:4.5px"><span class="st" style="top:-0.1px">Lärche</span><svg style="position:absolute;left:375.59999999999997px;top:9.90px" width="14" height="12" viewBox="0 0 14 12"><path d="M1 0.6h11.6L6.8 11.6z" fill="#444"/></svg></div>
<div class="inp" style="left:500px;top:662.30px;width:59px;height:33.6px;line-height:31px"><span class="st" style="top:-0.5px">20</span></div>
<div class="lb mm" style="left:565px;top:664.6px;">mm</div>
<svg class="ic" style="left:628.6px;top:661.2px" width="36" height="38" viewBox="0 0 36 38"><defs><clipPath id="wc11"><rect x="0.8" y="1" width="25.6" height="35"/></clipPath></defs><rect x="0.8" y="1.2" width="25.6" height="34.6" fill="#fdfdfd" stroke="#555" stroke-width="1.2"/><g clip-path="url(#wc11)" fill="none" stroke="#8a8a8a" stroke-width="1.5"><circle cx="1.5" cy="19.6" r="1.8" fill="#8a8a8a"/><circle cx="1.5" cy="19.6" r="6.4"/><circle cx="1.5" cy="19.4" r="11.8"/><ellipse cx="0" cy="18.5" rx="17.5" ry="17.5"/><ellipse cx="-1" cy="16" rx="23.4" ry="23"/><ellipse cx="-2" cy="12" rx="29" ry="30"/></g><rect x="16.5" y="5" width="18" height="15.5" fill="#f8f8f8" fill-opacity="0.9"/><path d="M24.2 7.4h2.6v3.8h3.8v2.6h-3.8v3.8h-2.6v-3.8h-3.8v-2.6h3.8z" fill="#444"/></svg>
<svg class="ic" style="left:867.0px;top:664.15px" width="29" height="30" viewBox="0 0 29 30"><path d="M1 4.5h27v4.6H1zM1 13.5h27v4.6H1zM1 22.5h27v4.6H1z" fill="#444"/></svg>
<svg class="ic" style="left:910.7px;top:662.0px" width="30" height="30" viewBox="0 0 30 30"><path d="M1.6 28.4 L3.4 20.3 L10 26.5 Z M4.6 19 L17.6 6.2 L24.4 13 L11.4 25.8 Z M19 4.8 L22.4 1.4 L29.2 8.2 L25.8 11.6 Z" fill="#444"/></svg>
<svg class="ic" style="left:955px;top:661.2px" width="36" height="30" viewBox="0 0 36 30"><rect x="1" y="1.2" width="34" height="10.3" fill="#cfcfcf"/><rect x="1" y="0.6" width="34" height="1.3" fill="#555"/><rect x="1" y="10.6" width="34" height="1.2" fill="#999"/><clipPath id="sl12"><rect x="1" y="1.9" width="34" height="10"/></clipPath><circle cx="23.8" cy="17.4" r="10.6" fill="#fff" fill-opacity="0.66" clip-path="url(#sl12)"/><path d="M22.5 9.2h2.7v6.4h6.4v2.7h-6.4v6.4h-2.7v-6.4h-6.4v-2.7h6.4z" fill="#444"/></svg>
<svg class="ic" style="left:999px;top:662.8px" width="32" height="34" viewBox="0 0 32 34"><path d="M8.3 7.6 A12.2 12.2 0 1 0 23.7 7.6" fill="none" stroke="#444" stroke-width="3.4"/><rect x="13.5" y="0.6" width="5" height="13.4" fill="#444"/></svg>
<svg class="ic" style="left:12.95px;top:715.60px" width="10" height="16" viewBox="0 0 10 16"><rect x="0.0" y="0.0" width="3" height="2.9" fill="#a6a6a6"/><rect x="6.05" y="0.0" width="3" height="2.9" fill="#a6a6a6"/><rect x="0.0" y="6.05" width="3" height="2.9" fill="#a6a6a6"/><rect x="6.05" y="6.05" width="3" height="2.9" fill="#a6a6a6"/><rect x="0.0" y="12.1" width="3" height="2.9" fill="#a6a6a6"/><rect x="6.05" y="12.1" width="3" height="2.9" fill="#a6a6a6"/></svg>
<div class="lb num" style="left:40px;top:707.6px;">11</div>
<div class="sel" style="left:80px;top:705.80px;width:403.7px;height:33.6px;line-height:31px;padding-left:4.5px"><span class="st" style="top:-0.1px"></span><svg style="position:absolute;left:375.59999999999997px;top:9.90px" width="14" height="12" viewBox="0 0 14 12"><path d="M1 0.6h11.6L6.8 11.6z" fill="#444"/></svg></div>
<div class="inp" style="left:500px;top:705.80px;width:59px;height:33.6px;line-height:31px"><span class="st" style="top:-0.5px"></span></div>
<div class="lb mm" style="left:565px;top:708.1px;">mm</div>
<svg class="ic" style="left:960px;top:704.8px" width="26" height="32" viewBox="0 0 26 32"><path d="M9.5 1.2h7l1.2 1.8h7.3v2.8H1V3h7.3z M2.2 8h2.9v19.8h15.8V8h2.9v22.8H2.2z M7.6 10.5h2.2v15.2H7.6z M11.9 10.5h2.2v15.2h-2.2z M16.2 10.5h2.2v15.2h-2.2z" fill="#444"/></svg>
<div class="lb" style="left:12.4px;top:752px;">Außen:</div>
<div class="sel" style="left:80px;top:749.30px;width:402.8px;height:33.6px;line-height:31px;padding-left:6.5px"><span class="st" style="top:0.6px">Direkter Übergang zur Außenluft</span><svg style="position:absolute;left:375.59999999999997px;top:9.90px" width="14" height="12" viewBox="0 0 14 12"><path d="M1 0.6h11.6L6.8 11.6z" fill="#444"/></svg></div>
<div class="inp" style="left:500px;top:749.30px;width:59px;height:33.6px;line-height:31px"><span class="st" style="top:-0.5px">-15</span></div>
<div class="lb" style="left:564.7px;top:752px;">°C</div>
<div class="inp" style="left:602.8px;top:749.30px;width:59px;height:33.6px;line-height:31px"><span class="st" style="top:-0.5px">80</span></div>
<div class="lb" style="left:667.4px;top:752px;">% Luftfeuchtigkeit</div>
<div class="btn" style="left:837px;top:749.1px;width:80.6px;height:33.8px;line-height:32.6px">Rse...</div>
<svg style="position:absolute;left:1290px;top:140px" width="1272" height="640" viewBox="1290 140 1272 640" font-family="Liberation Sans, sans-serif">
<defs>
<clipPath id="insc"><rect x="1384.3" y="300.6" width="77.40000000000009" height="252.69999999999993"/><rect x="1515.9" y="300.6" width="510.5999999999999" height="252.69999999999993"/><rect x="2079.6" y="300.6" width="77.90000000000009" height="252.69999999999993"/></clipPath>
<clipPath id="dhfc"><rect x="1384.3" y="287.1" width="773.2" height="14.1"/></clipPath>
<clipPath id="tbc"><rect x="1384.3" y="214.9" width="773.2" height="17.69999999999999"/></clipPath>
<clipPath id="c1"><rect x="1471" y="232.6" width="44.90000000000009" height="27.200000000000017"/></clipPath>
<clipPath id="c2"><rect x="1471" y="259.8" width="44.90000000000009" height="27.30000000000001"/></clipPath>
<clipPath id="c3"><rect x="2026.5" y="232.6" width="44.30000000000018" height="27.200000000000017"/></clipPath>
<clipPath id="c4"><rect x="2026.5" y="259.8" width="44.30000000000018" height="27.30000000000001"/></clipPath>
<clipPath id="c5"><rect x="1581.3" y="567.0999999999999" width="45.40000000000009" height="36.100000000000136"/></clipPath>
<clipPath id="c6"><rect x="1915.2" y="567.0999999999999" width="45.399999999999864" height="36.100000000000136"/></clipPath>
<clipPath id="k1"><rect x="1461.7" y="300.6" width="54.200000000000045" height="252.69999999999993"/></clipPath>
<clipPath id="k2"><rect x="2026.5" y="300.6" width="53.09999999999991" height="252.69999999999993"/></clipPath>
<clipPath id="k1i"><rect x="1464.2" y="302.6" width="49.50000000000004" height="248.69999999999993"/></clipPath>
<clipPath id="k2i"><rect x="2029" y="302.6" width="48.399999999999906" height="248.69999999999993"/></clipPath>
</defs>
<rect x="1384.3" y="232.6" width="773.2" height="54.50000000000003" fill="#fafafa"/>
<rect x="1384.3" y="566.8" width="773.2" height="36.40000000000009" fill="#fafafa"/>
<text x="1770.3" y="205.4" text-anchor="middle" font-size="20.9" fill="#8a8a8a">Außen</text>
<text x="1770.8" y="641.8" text-anchor="middle" font-size="20.9" fill="#8a8a8a">Innen</text>
<text x="2157.5" y="641.8" text-anchor="end" font-size="20.9" fill="#bdbdbd">ubakus.de</text>
<rect x="1384.3" y="300.6" width="773.2" height="252.69999999999993" fill="#ffffa3"/>
<g clip-path="url(#insc)"><path d="M1170.75 334.25A42.96 42.96 0 0 1 1254.2 334.25L1299.62 519.85M1170.75 334.25L1125.34 519.85M1213.71 519.85A42.96 42.96 0 0 0 1297.16 519.85M1256.66 334.25A42.96 42.96 0 0 1 1340.11 334.25L1385.53 519.85M1256.66 334.25L1211.25 519.85M1299.62 519.85A42.96 42.96 0 0 0 1383.07 519.85M1342.58 334.25A42.96 42.96 0 0 1 1426.02 334.25L1471.44 519.85M1342.58 334.25L1297.16 519.85M1385.53 519.85A42.96 42.96 0 0 0 1468.98 519.85M1428.49 334.25A42.96 42.96 0 0 1 1511.94 334.25L1557.35 519.85M1428.49 334.25L1383.07 519.85M1471.44 519.85A42.96 42.96 0 0 0 1554.89 519.85M1514.4 334.25A42.96 42.96 0 0 1 1597.85 334.25L1643.26 519.85M1514.4 334.25L1468.98 519.85M1557.35 519.85A42.96 42.96 0 0 0 1640.8 519.85M1600.31 334.25A42.96 42.96 0 0 1 1683.76 334.25L1729.18 519.85M1600.31 334.25L1554.89 519.85M1643.26 519.85A42.96 42.96 0 0 0 1726.71 519.85M1686.22 334.25A42.96 42.96 0 0 1 1769.67 334.25L1815.09 519.85M1686.22 334.25L1640.8 519.85M1729.18 519.85A42.96 42.96 0 0 0 1812.62 519.85M1772.13 334.25A42.96 42.96 0 0 1 1855.58 334.25L1901 519.85M1772.13 334.25L1726.71 519.85M1815.09 519.85A42.96 42.96 0 0 0 1898.54 519.85M1858.04 334.25A42.96 42.96 0 0 1 1941.49 334.25L1986.91 519.85M1858.04 334.25L1812.62 519.85M1901 519.85A42.96 42.96 0 0 0 1984.45 519.85M1943.95 334.25A42.96 42.96 0 0 1 2027.4 334.25L2072.82 519.85M1943.95 334.25L1898.54 519.85M1986.91 519.85A42.96 42.96 0 0 0 2070.36 519.85M2029.86 334.25A42.96 42.96 0 0 1 2113.31 334.25L2158.73 519.85M2029.86 334.25L1984.45 519.85M2072.82 519.85A42.96 42.96 0 0 0 2156.27 519.85M2115.78 334.25A42.96 42.96 0 0 1 2199.22 334.25L2244.64 519.85M2115.78 334.25L2070.36 519.85M2158.73 519.85A42.96 42.96 0 0 0 2242.18 519.85M2201.69 334.25A42.96 42.96 0 0 1 2285.14 334.25L2330.55 519.85M2201.69 334.25L2156.27 519.85M2244.64 519.85A42.96 42.96 0 0 0 2328.09 519.85M2287.6 334.25A42.96 42.96 0 0 1 2371.05 334.25L2416.46 519.85M2287.6 334.25L2242.18 519.85M2330.55 519.85A42.96 42.96 0 0 0 2414 519.85" fill="none" stroke="#3c3c3c" stroke-width="1"/></g>
<rect x="1461.7" y="300.6" width="54.2" height="252.7" fill="#c6ab8c" stroke="#6b5f52" stroke-width="1"/>
<g clip-path="url(#k1i)" fill="none" stroke="#5d544b" stroke-width="0.85"><circle cx="1464.3" cy="426.8" r="2.9"/><ellipse cx="1463.3" cy="426.8" rx="16.9" ry="15"/><ellipse cx="1463.3" cy="426.8" rx="31.2" ry="27.6"/><ellipse cx="1463.3" cy="426.8" rx="44.7" ry="39.6"/><ellipse cx="1463.3" cy="426.8" rx="57.6" ry="51"/><ellipse cx="1463.3" cy="426.8" rx="71.2" ry="63"/><ellipse cx="1463.3" cy="426.8" rx="86.4" ry="76.5"/><ellipse cx="1463.3" cy="426.8" rx="101.4" ry="89.7"/><ellipse cx="1463.3" cy="426.8" rx="114.0" ry="100.9"/><ellipse cx="1463.3" cy="426.8" rx="125.2" ry="110.8"/><ellipse cx="1463.3" cy="426.8" rx="139.0" ry="123"/></g>
<rect x="2026.5" y="300.6" width="53.1" height="252.7" fill="#c6ab8c" stroke="#6b5f52" stroke-width="1"/>
<g clip-path="url(#k2i)" fill="none" stroke="#5d544b" stroke-width="0.85"><circle cx="2029.1" cy="426.8" r="2.9"/><ellipse cx="2028.1" cy="426.8" rx="16.9" ry="15"/><ellipse cx="2028.1" cy="426.8" rx="31.2" ry="27.6"/><ellipse cx="2028.1" cy="426.8" rx="44.7" ry="39.6"/><ellipse cx="2028.1" cy="426.8" rx="57.6" ry="51"/><ellipse cx="2028.1" cy="426.8" rx="71.2" ry="63"/><ellipse cx="2028.1" cy="426.8" rx="86.4" ry="76.5"/><ellipse cx="2028.1" cy="426.8" rx="101.4" ry="89.7"/><ellipse cx="2028.1" cy="426.8" rx="114.0" ry="100.9"/><ellipse cx="2028.1" cy="426.8" rx="125.2" ry="110.8"/><ellipse cx="2028.1" cy="426.8" rx="139.0" ry="123"/></g>
<rect x="1384.3" y="287.1" width="773.2" height="14.1" fill="#fbfb8e"/>
<g clip-path="url(#dhfc)" fill="none" stroke="#4a4a36" stroke-width="0.8" stroke-linejoin="round"><polyline points="1384.3,287.9 1388.77,300.2 1393.24,287.9 1397.71,300.2 1402.18,287.9 1406.65,300.2 1411.12,287.9 1415.59,300.2 1420.06,287.9 1424.53,300.2 1429,287.9 1433.47,300.2 1437.94,287.9 1442.41,300.2 1446.88,287.9 1451.35,300.2 1455.82,287.9 1460.29,300.2 1464.76,287.9 1469.23,300.2 1473.7,287.9 1478.17,300.2 1482.64,287.9 1487.11,300.2 1491.58,287.9 1496.05,300.2 1500.52,287.9 1504.99,300.2 1509.46,287.9 1513.93,300.2 1518.4,287.9 1522.87,300.2 1527.34,287.9 1531.81,300.2 1536.28,287.9 1540.75,300.2 1545.22,287.9 1549.69,300.2 1554.16,287.9 1558.63,300.2 1563.1,287.9 1567.57,300.2 1572.04,287.9 1576.51,300.2 1580.98,287.9 1585.45,300.2 1589.92,287.9 1594.39,300.2 1598.86,287.9 1603.33,300.2 1607.8,287.9 1612.27,300.2 1616.74,287.9 1621.21,300.2 1625.68,287.9 1630.15,300.2 1634.62,287.9 1639.09,300.2 1643.56,287.9 1648.03,300.2 1652.5,287.9 1656.97,300.2 1661.44,287.9 1665.91,300.2 1670.38,287.9 1674.85,300.2 1679.32,287.9 1683.79,300.2 1688.26,287.9 1692.73,300.2 1697.2,287.9 1701.67,300.2 1706.14,287.9 1710.61,300.2 1715.08,287.9 1719.55,300.2 1724.02,287.9 1728.49,300.2 1732.96,287.9 1737.43,300.2 1741.9,287.9 1746.37,300.2 1750.84,287.9 1755.31,300.2 1759.78,287.9 1764.25,300.2 1768.72,287.9 1773.19,300.2 1777.66,287.9 1782.13,300.2 1786.6,287.9 1791.07,300.2 1795.54,287.9 1800.01,300.2 1804.48,287.9 1808.95,300.2 1813.42,287.9 1817.89,300.2 1822.36,287.9 1826.83,300.2 1831.3,287.9 1835.77,300.2 1840.24,287.9 1844.71,300.2 1849.18,287.9 1853.65,300.2 1858.12,287.9 1862.59,300.2 1867.06,287.9 1871.53,300.2 1876,287.9 1880.47,300.2 1884.94,287.9 1889.41,300.2 1893.88,287.9 1898.35,300.2 1902.82,287.9 1907.29,300.2 1911.76,287.9 1916.23,300.2 1920.7,287.9 1925.17,300.2 1929.64,287.9 1934.11,300.2 1938.58,287.9 1943.05,300.2 1947.52,287.9 1951.99,300.2 1956.46,287.9 1960.93,300.2 1965.4,287.9 1969.87,300.2 1974.34,287.9 1978.81,300.2 1983.28,287.9 1987.75,300.2 1992.22,287.9 1996.69,300.2 2001.16,287.9 2005.63,300.2 2010.1,287.9 2014.57,300.2 2019.04,287.9 2023.51,300.2 2027.98,287.9 2032.45,300.2 2036.92,287.9 2041.39,300.2 2045.86,287.9 2050.33,300.2 2054.8,287.9 2059.27,300.2 2063.74,287.9 2068.21,300.2 2072.68,287.9 2077.15,300.2 2081.62,287.9 2086.09,300.2 2090.56,287.9 2095.03,300.2 2099.5,287.9 2103.97,300.2 2108.44,287.9 2112.91,300.2 2117.38,287.9 2121.85,300.2 2126.32,287.9 2130.79,300.2 2135.26,287.9 2139.73,300.2 2144.2,287.9 2148.67,300.2 2153.14,287.9 2157.61,300.2 2162.08,287.9 2166.55,300.2"/><polyline points="1384.3,300.2 1388.77,287.9 1393.24,300.2 1397.71,287.9 1402.18,300.2 1406.65,287.9 1411.12,300.2 1415.59,287.9 1420.06,300.2 1424.53,287.9 1429,300.2 1433.47,287.9 1437.94,300.2 1442.41,287.9 1446.88,300.2 1451.35,287.9 1455.82,300.2 1460.29,287.9 1464.76,300.2 1469.23,287.9 1473.7,300.2 1478.17,287.9 1482.64,300.2 1487.11,287.9 1491.58,300.2 1496.05,287.9 1500.52,300.2 1504.99,287.9 1509.46,300.2 1513.93,287.9 1518.4,300.2 1522.87,287.9 1527.34,300.2 1531.81,287.9 1536.28,300.2 1540.75,287.9 1545.22,300.2 1549.69,287.9 1554.16,300.2 1558.63,287.9 1563.1,300.2 1567.57,287.9 1572.04,300.2 1576.51,287.9 1580.98,300.2 1585.45,287.9 1589.92,300.2 1594.39,287.9 1598.86,300.2 1603.33,287.9 1607.8,300.2 1612.27,287.9 1616.74,300.2 1621.21,287.9 1625.68,300.2 1630.15,287.9 1634.62,300.2 1639.09,287.9 1643.56,300.2 1648.03,287.9 1652.5,300.2 1656.97,287.9 1661.44,300.2 1665.91,287.9 1670.38,300.2 1674.85,287.9 1679.32,300.2 1683.79,287.9 1688.26,300.2 1692.73,287.9 1697.2,300.2 1701.67,287.9 1706.14,300.2 1710.61,287.9 1715.08,300.2 1719.55,287.9 1724.02,300.2 1728.49,287.9 1732.96,300.2 1737.43,287.9 1741.9,300.2 1746.37,287.9 1750.84,300.2 1755.31,287.9 1759.78,300.2 1764.25,287.9 1768.72,300.2 1773.19,287.9 1777.66,300.2 1782.13,287.9 1786.6,300.2 1791.07,287.9 1795.54,300.2 1800.01,287.9 1804.48,300.2 1808.95,287.9 1813.42,300.2 1817.89,287.9 1822.36,300.2 1826.83,287.9 1831.3,300.2 1835.77,287.9 1840.24,300.2 1844.71,287.9 1849.18,300.2 1853.65,287.9 1858.12,300.2 1862.59,287.9 1867.06,300.2 1871.53,287.9 1876,300.2 1880.47,287.9 1884.94,300.2 1889.41,287.9 1893.88,300.2 1898.35,287.9 1902.82,300.2 1907.29,287.9 1911.76,300.2 1916.23,287.9 1920.7,300.2 1925.17,287.9 1929.64,300.2 1934.11,287.9 1938.58,300.2 1943.05,287.9 1947.52,300.2 1951.99,287.9 1956.46,300.2 1960.93,287.9 1965.4,300.2 1969.87,287.9 1974.34,300.2 1978.81,287.9 1983.28,300.2 1987.75,287.9 1992.22,300.2 1996.69,287.9 2001.16,300.2 2005.63,287.9 2010.1,300.2 2014.57,287.9 2019.04,300.2 2023.51,287.9 2027.98,300.2 2032.45,287.9 2036.92,300.2 2041.39,287.9 2045.86,300.2 2050.33,287.9 2054.8,300.2 2059.27,287.9 2063.74,300.2 2068.21,287.9 2072.68,300.2 2077.15,287.9 2081.62,300.2 2086.09,287.9 2090.56,300.2 2095.03,287.9 2099.5,300.2 2103.97,287.9 2108.44,300.2 2112.91,287.9 2117.38,300.2 2121.85,287.9 2126.32,300.2 2130.79,287.9 2135.26,300.2 2139.73,287.9 2144.2,300.2 2148.67,287.9 2153.14,300.2 2157.61,287.9 2162.08,300.2 2166.55,287.9"/>
<path d="M1384.3 287.7H2157.5" stroke-width="0.9" stroke-dasharray="5.2 3.74"/>
<path d="M1388.77 300.4H2157.5" stroke-width="0.9" stroke-dasharray="5.2 3.74"/></g>
<rect x="1384.3" y="214.9" width="773.2" height="17.7" fill="#c6ab8c"/>
<path d="M1384.3 215.5H2157.5M1384.3 232.4H2157.5" stroke="#4e4a46" stroke-width="1.4"/>
<g clip-path="url(#tbc)" fill="none" stroke="#6a5e52" stroke-width="0.7"><path d="M1264.3 229.94Q1374.3 223.24 1484.3 219.54"/><path d="M1321.05 230.83Q1431.05 223.35 1541.05 218.87"/><path d="M1363.48 230.53Q1473.48 223.45 1583.48 219.38"/><path d="M1403.74 231.75Q1488.74 223.75 1573.74 218.75"/><path d="M1463.11 230.61Q1508.11 223 1553.11 218.39"/><path d="M1511.98 230.54Q1576.98 223.51 1641.98 219.48"/><path d="M1551.5 231.62Q1596.5 223.31 1641.5 218"/><path d="M1590.22 231.28Q1700.22 223.58 1810.22 218.88"/><path d="M1632.91 230.5Q1697.91 223.07 1762.91 218.65"/><path d="M1686.81 230.46Q1796.81 222.94 1906.81 218.42"/><path d="M1738.04 230.33Q1783.04 222.76 1828.04 218.19"/><path d="M1781.55 232.03Q1866.55 223.92 1951.55 218.81"/><path d="M1822.14 229.98Q1867.14 222.67 1912.14 218.37"/><path d="M1883.13 231.57Q1928.13 224.14 1973.13 219.72"/><path d="M1922.39 229.65Q2032.39 222.52 2142.39 218.39"/><path d="M1962.14 230.15Q2027.14 222.61 2092.14 218.07"/><path d="M2002.23 232.06Q2087.23 223.74 2172.23 218.43"/><path d="M2062.38 231.48Q2127.38 223.07 2192.38 217.65"/><path d="M2101.82 231.66Q2211.82 223.73 2321.82 218.8"/><path d="M2150.56 229.64Q2215.56 222.98 2280.56 219.32"/></g>
<rect x="1471" y="232.6" width="44.9" height="27.2" fill="#c6ab8c" stroke="#6b5f52" stroke-width="1"/>
<g clip-path="url(#c1)" fill="none" stroke="#5d544b" stroke-width="0.85"><ellipse cx="1493.45" cy="257.6" rx="2.8" ry="2.86"/><ellipse cx="1493.45" cy="257.6" rx="10" ry="10.2"/><ellipse cx="1493.45" cy="257.6" rx="18" ry="18.36"/><ellipse cx="1493.45" cy="257.6" rx="27" ry="27.54"/><ellipse cx="1493.45" cy="257.6" rx="37" ry="37.74"/></g>
<rect x="1471" y="259.8" width="44.9" height="27.3" fill="#c6ab8c" stroke="#6b5f52" stroke-width="1"/>
<g clip-path="url(#c2)" fill="none" stroke="#5d544b" stroke-width="0.85"><ellipse cx="1493.45" cy="284.9" rx="2.8" ry="2.86"/><ellipse cx="1493.45" cy="284.9" rx="10" ry="10.2"/><ellipse cx="1493.45" cy="284.9" rx="18" ry="18.36"/><ellipse cx="1493.45" cy="284.9" rx="27" ry="27.54"/><ellipse cx="1493.45" cy="284.9" rx="37" ry="37.74"/></g>
<rect x="2026.5" y="232.6" width="44.3" height="27.2" fill="#c6ab8c" stroke="#6b5f52" stroke-width="1"/>
<g clip-path="url(#c3)" fill="none" stroke="#5d544b" stroke-width="0.85"><ellipse cx="2048.65" cy="257.6" rx="2.8" ry="2.86"/><ellipse cx="2048.65" cy="257.6" rx="10" ry="10.2"/><ellipse cx="2048.65" cy="257.6" rx="18" ry="18.36"/><ellipse cx="2048.65" cy="257.6" rx="27" ry="27.54"/><ellipse cx="2048.65" cy="257.6" rx="37" ry="37.74"/></g>
<rect x="2026.5" y="259.8" width="44.3" height="27.3" fill="#c6ab8c" stroke="#6b5f52" stroke-width="1"/>
<g clip-path="url(#c4)" fill="none" stroke="#5d544b" stroke-width="0.85"><ellipse cx="2048.65" cy="284.9" rx="2.8" ry="2.86"/><ellipse cx="2048.65" cy="284.9" rx="10" ry="10.2"/><ellipse cx="2048.65" cy="284.9" rx="18" ry="18.36"/><ellipse cx="2048.65" cy="284.9" rx="27" ry="27.54"/><ellipse cx="2048.65" cy="284.9" rx="37" ry="37.74"/></g>
<rect x="1581.3" y="567.1" width="45.4" height="36.1" fill="#c6ab8c" stroke="#6b5f52" stroke-width="1"/>
<g clip-path="url(#c5)" fill="none" stroke="#5d544b" stroke-width="0.85"><ellipse cx="1604" cy="601" rx="2.8" ry="2.86"/><ellipse cx="1604" cy="601" rx="10" ry="10.2"/><ellipse cx="1604" cy="601" rx="18" ry="18.36"/><ellipse cx="1604" cy="601" rx="27" ry="27.54"/><ellipse cx="1604" cy="601" rx="37" ry="37.74"/></g>
<rect x="1915.2" y="567.1" width="45.4" height="36.1" fill="#c6ab8c" stroke="#6b5f52" stroke-width="1"/>
<g clip-path="url(#c6)" fill="none" stroke="#5d544b" stroke-width="0.85"><ellipse cx="1937.9" cy="601" rx="2.8" ry="2.86"/><ellipse cx="1937.9" cy="601" rx="10" ry="10.2"/><ellipse cx="1937.9" cy="601" rx="18" ry="18.36"/><ellipse cx="1937.9" cy="601" rx="27" ry="27.54"/><ellipse cx="1937.9" cy="601" rx="37" ry="37.74"/></g>
<rect x="1384.3" y="553.7" width="773.2" height="13.1" fill="#cfae8a"/>
<rect x="1384.3" y="553.3" width="773.2" height="1" fill="#bda079"/>
<path d="M1393.85 553.9V566.5M1403.4 553.9V566.5M1412.95 553.9V566.5M1422.5 553.9V566.5M1432.05 553.9V566.5M1441.6 553.9V566.5M1451.15 553.9V566.5M1460.7 553.9V566.5M1470.25 553.9V566.5M1479.8 553.9V566.5M1489.35 553.9V566.5M1498.9 553.9V566.5M1508.45 553.9V566.5M1518 553.9V566.5M1527.55 553.9V566.5M1537.1 553.9V566.5M1546.65 553.9V566.5M1556.2 553.9V566.5M1565.75 553.9V566.5M1575.3 553.9V566.5M1584.85 553.9V566.5M1594.4 553.9V566.5M1603.95 553.9V566.5M1613.5 553.9V566.5M1623.05 553.9V566.5M1632.6 553.9V566.5M1642.15 553.9V566.5M1651.7 553.9V566.5M1661.25 553.9V566.5M1670.8 553.9V566.5M1680.35 553.9V566.5M1689.9 553.9V566.5M1699.45 553.9V566.5M1709 553.9V566.5M1718.55 553.9V566.5M1728.1 553.9V566.5M1737.65 553.9V566.5M1747.2 553.9V566.5M1756.75 553.9V566.5M1766.3 553.9V566.5M1775.85 553.9V566.5M1785.4 553.9V566.5M1794.95 553.9V566.5M1804.5 553.9V566.5M1814.05 553.9V566.5M1823.6 553.9V566.5M1833.15 553.9V566.5M1842.7 553.9V566.5M1852.25 553.9V566.5M1861.8 553.9V566.5M1871.35 553.9V566.5M1880.9 553.9V566.5M1890.45 553.9V566.5M1900 553.9V566.5M1909.55 553.9V566.5M1919.1 553.9V566.5M1928.65 553.9V566.5M1938.2 553.9V566.5M1947.75 553.9V566.5M1957.3 553.9V566.5M1966.85 553.9V566.5M1976.4 553.9V566.5M1985.95 553.9V566.5M1995.5 553.9V566.5M2005.05 553.9V566.5M2014.6 553.9V566.5M2024.15 553.9V566.5M2033.7 553.9V566.5M2043.25 553.9V566.5M2052.8 553.9V566.5M2062.35 553.9V566.5M2071.9 553.9V566.5M2081.45 553.9V566.5M2091 553.9V566.5M2100.55 553.9V566.5M2110.1 553.9V566.5M2119.65 553.9V566.5M2129.2 553.9V566.5M2138.75 553.9V566.5M2148.3 553.9V566.5" stroke="#a89263" stroke-width="1.3"/>
<rect x="1384.3" y="566.5" width="773.2" height="2" fill="#fbfbfb"/><rect x="1384.3" y="568.3" width="773.2" height="0.8" fill="#cfcfcf"/>
<path d="M1384.3 566.4h38.6v2.5h-38.6zM1461.6 566.4h38.6v2.5h-38.6zM1538.9 566.4h38.6v2.5h-38.6zM1616.2 566.4h38.6v2.5h-38.6zM1693.5 566.4h38.6v2.5h-38.6zM1770.8 566.4h38.6v2.5h-38.6zM1848.1 566.4h38.6v2.5h-38.6zM1925.4 566.4h38.6v2.5h-38.6zM2002.7 566.4h38.6v2.5h-38.6zM2080 566.4h38.6v2.5h-38.6zM2157.3 566.4h0.2v2.5h-0.2z" fill="#050505"/>
<rect x="1384.3" y="603.2" width="773.2" height="13.7" fill="#dddddd"/>
<rect x="1384.3" y="602.9" width="773.2" height="1.8" fill="#baab8c"/>
<rect x="1384.3" y="615.8" width="773.2" height="1.5" fill="#5a5a5a"/>
<path d="M1635.1 606.71h2.3v2.3h-2.3zM1885.4 606.19h2.3v2.3h-2.3zM1797.36 608.15h2.3v2.3h-2.3zM1431.68 609.1h2.3v2.3h-2.3zM1415.99 608.61h2.3v2.3h-2.3zM1440.75 606.31h2.3v2.3h-2.3zM1712.14 611.24h2.3v2.3h-2.3zM1482.03 607.2h2.3v2.3h-2.3zM1867.41 612.05h2.3v2.3h-2.3zM1828.9 608.36h2.3v2.3h-2.3zM2134.33 606.01h2.3v2.3h-2.3zM2044.2 607.64h2.3v2.3h-2.3zM1497.68 606.49h2.3v2.3h-2.3zM1623.35 611.17h2.3v2.3h-2.3zM1525.59 609.6h2.3v2.3h-2.3zM1876.2 608.2h2.3v2.3h-2.3zM1806.43 606.12h2.3v2.3h-2.3zM1432.91 607.08h2.3v2.3h-2.3zM1907.94 608.56h2.3v2.3h-2.3zM1627.69 609.62h2.3v2.3h-2.3zM1734.08 607.71h2.3v2.3h-2.3zM1995.16 610.38h2.3v2.3h-2.3zM1574.08 609.55h2.3v2.3h-2.3zM1789.18 611.56h2.3v2.3h-2.3zM1945.47 607.63h2.3v2.3h-2.3zM2137.33 606.49h2.3v2.3h-2.3zM1707.25 610.77h2.3v2.3h-2.3zM1503.6 608.98h2.3v2.3h-2.3zM1417.3 610.18h2.3v2.3h-2.3zM1972.35 609.54h2.3v2.3h-2.3zM2057.22 607.8h2.3v2.3h-2.3zM1919.34 609.68h2.3v2.3h-2.3zM1831.04 608.76h2.3v2.3h-2.3zM2030.04 612.03h2.3v2.3h-2.3zM1750.08 610.15h2.3v2.3h-2.3zM1433.72 610.4h2.3v2.3h-2.3zM1882.48 612.35h2.3v2.3h-2.3zM2016.24 607.61h2.3v2.3h-2.3zM1682.51 610.18h2.3v2.3h-2.3zM1404.57 608.79h2.3v2.3h-2.3zM1515.89 606.48h2.3v2.3h-2.3zM1432.41 610.85h2.3v2.3h-2.3z" fill="none" stroke="#a9a9a9" stroke-width="0.6"/>
<path d="M1478.9 273.6H1507.9M1484.9 267.6L1477.9 273.6L1484.9 279.6M1501.9 267.6L1508.9 273.6L1501.9 279.6" fill="none" stroke="#000" stroke-width="1.7"/>
<path d="M2034.1 273.6H2063.1M2040.1 267.6L2033.1 273.6L2040.1 279.6M2057.1 267.6L2064.1 273.6L2057.1 279.6" fill="none" stroke="#000" stroke-width="1.7"/>
<path d="M1410 297.8C1411.5 300.8 1414.7 303.2 1414.7 305.5A4.7 4.7 0 0 1 1405.3 305.5C1405.3 303.2 1408.5 300.8 1410 297.8Z" fill="#fff" stroke="#fff" stroke-width="3.4" stroke-linejoin="round"/><path d="M1410 297.8C1411.5 300.8 1414.7 303.2 1414.7 305.5A4.7 4.7 0 0 1 1405.3 305.5C1405.3 303.2 1408.5 300.8 1410 297.8Z" fill="#6b8fd9"/><path d="M1442 296.5C1443.5 299.5 1446.7 301.9 1446.7 304.2A4.7 4.7 0 0 1 1437.3 304.2C1437.3 301.9 1440.5 299.5 1442 296.5Z" fill="#fff" stroke="#fff" stroke-width="3.4" stroke-linejoin="round"/><path d="M1442 296.5C1443.5 299.5 1446.7 301.9 1446.7 304.2A4.7 4.7 0 0 1 1437.3 304.2C1437.3 301.9 1440.5 299.5 1442 296.5Z" fill="#6b8fd9"/><path d="M1582 292.7C1583.5 295.7 1586.7 298.1 1586.7 300.4A4.7 4.7 0 0 1 1577.3 300.4C1577.3 298.1 1580.5 295.7 1582 292.7Z" fill="#fff" stroke="#fff" stroke-width="3.4" stroke-linejoin="round"/><path d="M1582 292.7C1583.5 295.7 1586.7 298.1 1586.7 300.4A4.7 4.7 0 0 1 1577.3 300.4C1577.3 298.1 1580.5 295.7 1582 292.7Z" fill="#6b8fd9"/><path d="M1609.4 292.7C1610.9 295.7 1614.1 298.1 1614.1 300.4A4.7 4.7 0 0 1 1604.7 300.4C1604.7 298.1 1607.9 295.7 1609.4 292.7Z" fill="#fff" stroke="#fff" stroke-width="3.4" stroke-linejoin="round"/><path d="M1609.4 292.7C1610.9 295.7 1614.1 298.1 1614.1 300.4A4.7 4.7 0 0 1 1604.7 300.4C1604.7 298.1 1607.9 295.7 1609.4 292.7Z" fill="#6b8fd9"/><path d="M1664.3 291.4C1665.8 294.4 1669 296.8 1669 299.1A4.7 4.7 0 0 1 1659.6 299.1C1659.6 296.8 1662.8 294.4 1664.3 291.4Z" fill="#fff" stroke="#fff" stroke-width="3.4" stroke-linejoin="round"/><path d="M1664.3 291.4C1665.8 294.4 1669 296.8 1669 299.1A4.7 4.7 0 0 1 1659.6 299.1C1659.6 296.8 1662.8 294.4 1664.3 291.4Z" fill="#6b8fd9"/><path d="M1698.3 291.4C1699.8 294.4 1703 296.8 1703 299.1A4.7 4.7 0 0 1 1693.6 299.1C1693.6 296.8 1696.8 294.4 1698.3 291.4Z" fill="#fff" stroke="#fff" stroke-width="3.4" stroke-linejoin="round"/><path d="M1698.3 291.4C1699.8 294.4 1703 296.8 1703 299.1A4.7 4.7 0 0 1 1693.6 299.1C1693.6 296.8 1696.8 294.4 1698.3 291.4Z" fill="#6b8fd9"/><path d="M1758.3 290.9C1759.8 293.9 1763 296.3 1763 298.6A4.7 4.7 0 0 1 1753.6 298.6C1753.6 296.3 1756.8 293.9 1758.3 290.9Z" fill="#fff" stroke="#fff" stroke-width="3.4" stroke-linejoin="round"/><path d="M1758.3 290.9C1759.8 293.9 1763 296.3 1763 298.6A4.7 4.7 0 0 1 1753.6 298.6C1753.6 296.3 1756.8 293.9 1758.3 290.9Z" fill="#6b8fd9"/><path d="M1791.3 297C1792.8 300 1796 302.4 1796 304.7A4.7 4.7 0 0 1 1786.6 304.7C1786.6 302.4 1789.8 300 1791.3 297Z" fill="#fff" stroke="#fff" stroke-width="3.4" stroke-linejoin="round"/><path d="M1791.3 297C1792.8 300 1796 302.4 1796 304.7A4.7 4.7 0 0 1 1786.6 304.7C1786.6 302.4 1789.8 300 1791.3 297Z" fill="#6b8fd9"/><path d="M1838 291.9C1839.5 294.9 1842.7 297.3 1842.7 299.6A4.7 4.7 0 0 1 1833.3 299.6C1833.3 297.3 1836.5 294.9 1838 291.9Z" fill="#fff" stroke="#fff" stroke-width="3.4" stroke-linejoin="round"/><path d="M1838 291.9C1839.5 294.9 1842.7 297.3 1842.7 299.6A4.7 4.7 0 0 1 1833.3 299.6C1833.3 297.3 1836.5 294.9 1838 291.9Z" fill="#6b8fd9"/><path d="M1879.4 295C1880.9 298 1884.1 300.4 1884.1 302.7A4.7 4.7 0 0 1 1874.7 302.7C1874.7 300.4 1877.9 298 1879.4 295Z" fill="#fff" stroke="#fff" stroke-width="3.4" stroke-linejoin="round"/><path d="M1879.4 295C1880.9 298 1884.1 300.4 1884.1 302.7A4.7 4.7 0 0 1 1874.7 302.7C1874.7 300.4 1877.9 298 1879.4 295Z" fill="#6b8fd9"/><path d="M1926.5 293.9C1928 296.9 1931.2 299.3 1931.2 301.6A4.7 4.7 0 0 1 1921.8 301.6C1921.8 299.3 1925 296.9 1926.5 293.9Z" fill="#fff" stroke="#fff" stroke-width="3.4" stroke-linejoin="round"/><path d="M1926.5 293.9C1928 296.9 1931.2 299.3 1931.2 301.6A4.7 4.7 0 0 1 1921.8 301.6C1921.8 299.3 1925 296.9 1926.5 293.9Z" fill="#6b8fd9"/><path d="M1986.4 293.9C1987.9 296.9 1991.1 299.3 1991.1 301.6A4.7 4.7 0 0 1 1981.7 301.6C1981.7 299.3 1984.9 296.9 1986.4 293.9Z" fill="#fff" stroke="#fff" stroke-width="3.4" stroke-linejoin="round"/><path d="M1986.4 293.9C1987.9 296.9 1991.1 299.3 1991.1 301.6A4.7 4.7 0 0 1 1981.7 301.6C1981.7 299.3 1984.9 296.9 1986.4 293.9Z" fill="#6b8fd9"/><path d="M2133.8 293.9C2135.3 296.9 2138.5 299.3 2138.5 301.6A4.7 4.7 0 0 1 2129.1 301.6C2129.1 299.3 2132.3 296.9 2133.8 293.9Z" fill="#fff" stroke="#fff" stroke-width="3.4" stroke-linejoin="round"/><path d="M2133.8 293.9C2135.3 296.9 2138.5 299.3 2138.5 301.6A4.7 4.7 0 0 1 2129.1 301.6C2129.1 299.3 2132.3 296.9 2133.8 293.9Z" fill="#6b8fd9"/>
<polyline points="2148.3,223.5 2177.2,223.5 2202.8,169.4" fill="none" stroke="#555" stroke-width="1"/><circle cx="2148.3" cy="223.5" r="1.9" fill="#3c3c3c"/><polyline points="2062.2,241.7 2067.3,237.3 2177.2,237.3 2202.8,205.2" fill="none" stroke="#555" stroke-width="1"/><circle cx="2062.2" cy="241.7" r="1.9" fill="#3c3c3c"/><polyline points="2148.3,241.9 2177.2,241.9 2202.8,240.7" fill="none" stroke="#555" stroke-width="1"/><circle cx="2148.3" cy="241.9" r="1.9" fill="#3c3c3c"/><polyline points="2063.5,273.4 2177.2,273.4 2202.8,276.9" fill="none" stroke="#555" stroke-width="1"/><circle cx="2063.5" cy="273.4" r="1.9" fill="#3c3c3c"/><polyline points="2148.3,278 2177.2,278 2202.8,313.2" fill="none" stroke="#555" stroke-width="1"/><circle cx="2148.3" cy="278" r="1.9" fill="#3c3c3c"/><polyline points="2148.3,293.8 2177.2,293.8 2202.8,349" fill="none" stroke="#555" stroke-width="1"/><circle cx="2148.3" cy="293.8" r="1.9" fill="#3c3c3c"/><polyline points="2071.2,413.1 2202.8,413.1" fill="none" stroke="#555" stroke-width="1"/><circle cx="2071.2" cy="413.1" r="1.9" fill="#3c3c3c"/><polyline points="2148.3,449.1 2202.8,449.1" fill="none" stroke="#555" stroke-width="1"/><circle cx="2148.3" cy="449.1" r="1.9" fill="#3c3c3c"/><polyline points="2148.3,559.8 2177.2,559.8 2202.8,485.2" fill="none" stroke="#555" stroke-width="1"/><circle cx="2148.3" cy="559.8" r="1.9" fill="#3c3c3c"/><polyline points="2148.3,567 2177.2,567 2202.8,521.2" fill="none" stroke="#555" stroke-width="1"/><circle cx="2148.3" cy="567" r="1.9" fill="#3c3c3c"/><polyline points="1951.6,576.4 2177.2,576.4 2202.8,557" fill="none" stroke="#555" stroke-width="1"/><circle cx="1951.6" cy="576.4" r="1.9" fill="#3c3c3c"/><polyline points="2148.3,610.2 2177.2,610.2 2202.8,665.3" fill="none" stroke="#555" stroke-width="1"/><circle cx="2148.3" cy="610.2" r="1.9" fill="#3c3c3c"/><polyline points="2148.3,593.3 2202.8,593.3" fill="none" stroke="#555" stroke-width="1"/><circle cx="2148.3" cy="593.3" r="1.9" fill="#aaa"/><polyline points="2193,603.5 2197.1,603.5 2197.1,629.6 2202.8,629.6" fill="none" stroke="#777" stroke-width="1"/>
<circle cx="1741" cy="610.2" r="14.4" fill="#fff" stroke="#222" stroke-width="1.1"/><text x="1741" y="617.1" text-anchor="middle" font-size="19.5" fill="#111">1</text><circle cx="1771.1" cy="603.5" r="14.4" fill="#fff" stroke="#222" stroke-width="1.1"/><text x="1771.1" y="610.4" text-anchor="middle" font-size="19.5" fill="#111">2</text><circle cx="1801" cy="585.6" r="14.4" fill="#fff" stroke="#222" stroke-width="1.1"/><text x="1801" y="592.5" text-anchor="middle" font-size="19.5" fill="#111">3</text><circle cx="1830.9" cy="567.2" r="14.4" fill="#fff" stroke="#222" stroke-width="1.1"/><text x="1830.9" y="574.1" text-anchor="middle" font-size="19.5" fill="#111">4</text><circle cx="1860.8" cy="560.1" r="14.4" fill="#fff" stroke="#222" stroke-width="1.1"/><text x="1860.8" y="567.0" text-anchor="middle" font-size="19.5" fill="#111">5</text><circle cx="1860.8" cy="427.4" r="14.4" fill="#fff" stroke="#222" stroke-width="1.1"/><text x="1860.8" y="434.29999999999995" text-anchor="middle" font-size="19.5" fill="#111">6</text><circle cx="1860.8" cy="294" r="14.4" fill="#fff" stroke="#222" stroke-width="1.1"/><text x="1860.8" y="300.9" text-anchor="middle" font-size="19.5" fill="#111">7</text><circle cx="1890.9" cy="273.4" r="14.4" fill="#fff" stroke="#222" stroke-width="1.1"/><text x="1890.9" y="280.29999999999995" text-anchor="middle" font-size="19.5" fill="#111">8</text><circle cx="1920.3" cy="246" r="14.4" fill="#fff" stroke="#222" stroke-width="1.1"/><text x="1920.3" y="252.9" text-anchor="middle" font-size="19.5" fill="#111">9</text><circle cx="1951.1" cy="223.8" r="14.4" fill="#fff" stroke="#222" stroke-width="1.1"/><text x="1951.1" y="230.70000000000002" text-anchor="middle" font-size="19.5" fill="#111" letter-spacing="-0.8">10</text>
<path d="M1324.6 214.9V616.9" stroke="#363636" stroke-width="1.2"/><path d="M1317.1 214.9H1331.9" stroke="#666" stroke-width="1.7"/><path d="M1317.1 232.8H1331.9" stroke="#666" stroke-width="1.7"/><path d="M1317.1 260H1331.9" stroke="#666" stroke-width="1.7"/><path d="M1317.1 287.1H1331.9" stroke="#666" stroke-width="1.7"/><path d="M1317.1 300.5H1331.9" stroke="#222" stroke-width="1.1"/><path d="M1317.1 553.4H1331.9" stroke="#222" stroke-width="1.1"/><path d="M1317.1 567.2H1331.9" stroke="#111" stroke-width="1.9"/><path d="M1317.1 603.4H1331.9" stroke="#222" stroke-width="1.2"/><path d="M1317.1 617H1331.9" stroke="#777" stroke-width="1.9"/><text x="1332.2" y="230.6" font-size="20.9" fill="#8a8a8a">20</text><text x="1332.2" y="253.6" font-size="20.9" fill="#8a8a8a">30</text><text x="1332.2" y="280.9" font-size="20.9" fill="#8a8a8a">30</text><text x="1332.2" y="435.2" font-size="20.9" fill="#8a8a8a">280</text><text x="1332.2" y="593.2" font-size="20.9" fill="#8a8a8a">40</text><text transform="translate(1313,416.4) rotate(-90)" text-anchor="middle" font-size="20.9" fill="#8a8a8a">445,5</text>
<path d="M1581.3 662.3H1915.2" stroke="#555" stroke-width="1.2"/><path d="M1581.3 654.6999999999999V669.6999999999999" stroke="#444" stroke-width="1.1"/><path d="M1626.7 654.6999999999999V669.6999999999999" stroke="#444" stroke-width="1.1"/><path d="M1915.2 654.6999999999999V669.6999999999999" stroke="#444" stroke-width="1.1"/><text x="1603.7" y="685.3" text-anchor="middle" font-size="20.9" fill="#8a8a8a">50</text><text x="1770.8" y="685.3" text-anchor="middle" font-size="20.9" fill="#8a8a8a">320</text><path d="M1461.7 692.2H2026.3" stroke="#555" stroke-width="1.2"/><path d="M1461.7 684.6V699.6" stroke="#444" stroke-width="1.1"/><path d="M1515.8 684.6V699.6" stroke="#444" stroke-width="1.1"/><path d="M2026.3 684.6V699.6" stroke="#444" stroke-width="1.1"/><text x="1488.5" y="715.2" text-anchor="middle" font-size="20.9" fill="#8a8a8a">60</text><text x="1770.8" y="715.2" text-anchor="middle" font-size="20.9" fill="#8a8a8a">565</text><path d="M1470.9 722H2026.3" stroke="#555" stroke-width="1.2"/><path d="M1470.9 714.4V729.4" stroke="#444" stroke-width="1.1"/><path d="M1515.8 714.4V729.4" stroke="#444" stroke-width="1.1"/><path d="M2026.3 714.4V729.4" stroke="#444" stroke-width="1.1"/><text x="1493" y="745" text-anchor="middle" font-size="20.9" fill="#8a8a8a">50</text><text x="1770.8" y="745" text-anchor="middle" font-size="20.9" fill="#8a8a8a">565</text>
<text x="2207.6" y="174.3" font-size="21.03" fill="#444">Lärche (20mm)</text><text x="2207.6" y="210.3" font-size="21.03" fill="#444">Lärche (30x50mm²)</text><text x="2207.6" y="246.3" font-size="21.03" fill="#444">Hinterlüftung (Außenluft) (30mm)</text><path d="M2209.5 276.7h17M2214.5 272.09999999999997l-5 4.6l5 4.6M2221.5 272.09999999999997l5 4.6l-5 4.6" fill="none" stroke="#444" stroke-width="1.3"/><text x="2234.8" y="282.3" font-size="21.03" fill="#444">Lärche (30x50mm²)</text><text x="2207.6" y="318.3" font-size="21.03" fill="#444">Hinterlüftung (Außenluft) (30mm)</text><text x="2207.6" y="354.3" font-size="21.03" fill="#444">Egger DHF (15mm)</text><text x="2207.6" y="418.3" font-size="21.03" fill="#444">KVH Fichte (280x60mm²)</text><text x="2207.6" y="454.3" font-size="21.03" fill="#444">Zellulose (280mm)</text><text x="2207.6" y="490.3" font-size="21.03" fill="#444">OSB-Platte (15mm)</text><text x="2207.6" y="526.3" font-size="21.03" fill="#444">Dampfbremse sd= 2,3 (0,5mm)</text><text x="2207.6" y="562.3" font-size="21.03" fill="#444">Fichte (40x50mm²)</text><text x="2207.6" y="598.3" font-size="21.03" fill="#444">Luftschicht (ruhend) (40mm)</text><text x="2207.6" y="634.3" font-size="21.03" fill="#b4b4b4">OSB-Platte (15mm)</text><text x="2207.6" y="670.3" font-size="21.03" fill="#444">Gipskartonplatte (15mm)</text>
<circle cx="1328.3" cy="723.6" r="10.6" fill="none" stroke="#4a4a4a" stroke-width="3"/><path d="M1336.6 732.2L1348.6 744.2" stroke="#4a4a4a" stroke-width="5"/><path d="M1322.3 723.6h12M1328.3 717.6v12" stroke="#4a4a4a" stroke-width="2.6"/>
</svg>
<svg style="position:absolute;left:2440px;top:920px" width="122" height="280" viewBox="2440 920 122 280">
<defs><filter id="nz" x="0" y="0" width="100%" height="100%"><feTurbulence type="fractalNoise" baseFrequency="0.9" numOctaves="2" seed="3" result="n"/><feColorMatrix in="n" type="matrix" values="0 0 0 0 0.72  0 0 0 0 0.72  0 0 0 0 0.74  0.8 0.8 0.8 0 -0.8" result="m"/><feComposite in="m" in2="SourceGraphic" operator="in" result="t"/><feBlend in="SourceGraphic" in2="t" mode="multiply"/></filter><filter id="nz2" x="0" y="0" width="100%" height="100%"><feTurbulence type="fractalNoise" baseFrequency="0.7" numOctaves="2" seed="8" result="n"/><feColorMatrix in="n" type="matrix" values="0 0 0 0 0.66  0 0 0 0 0.52  0 0 0 0 0.26  1.1 1.1 1.1 0 -1.2" result="m"/><feComposite in="m" in2="SourceGraphic" operator="in" result="t"/><feMerge><feMergeNode in="SourceGraphic"/><feMergeNode in="t"/></feMerge></filter></defs>
<polygon points="2477.0,936.0 2562.0,945.0 2562.0,974.5 2479.4,963.1" fill="#bfa06a"/>
<polygon points="2484.7,938.6 2490.0,939.2 2490.9,963.9 2486.0,963.2" fill="#c9ad78"/>
<polygon points="2490.0,939.2 2492.4,939.5 2493.2,964.2 2490.9,963.9" fill="#8d7044"/>
<polygon points="2543.8,946.6 2548.6,947.1 2548.6,974.1 2544.1,973.4" fill="#c9ad78"/>
<polygon points="2548.6,947.1 2550.7,947.5 2550.7,974.3 2548.6,974.1" fill="#8d7044"/>
<polygon points="2475.7,962.8 2562.0,975.1 2562.0,981.5 2475.7,968.8" fill="#c09c62"/>
<polygon points="2475.7,968.8 2562.0,981.5 2562.0,995.1 2489.5,983.0 2475.7,976.4" fill="#d3d868"/>
<polygon points="2457.0,987.6 2489.5,982.8 2562.0,994.5 2562.0,1021.4 2457.0,999.5" fill="#b4b4bb" filter="url(#nz)"/>
<polygon points="2465.3,979.8 2486.8,973.8 2489.6,974.3 2489.6,982.8 2471.4,989.4" fill="#a5824c"/>
<polygon points="2465.3,979.8 2471.4,981.2 2471.4,1001.8 2466.1,1000.7" fill="#c9ab76"/>
<polygon points="2525.7,992.6 2544.3,983.9 2547.1,984.9 2547.1,992.6 2531.6,999.6" fill="#a5824c"/>
<polygon points="2525.7,992.6 2531.6,994.0 2531.6,1014.2 2526.4,1012.8" fill="#c9ab76"/>
<polygon points="2457.0,999.3 2562.0,1021.1 2562.0,1032.0 2459.4,1010.7" fill="#dcc684" filter="url(#nz2)"/>
<polygon points="2459.4,1010.5 2562.0,1031.8 2562.0,1057.5 2461.3,1032.6" fill="#9eb9d3"/>
<polygon points="2476.7,1017.1 2481.8,1016.7 2482.9,1037.1 2478.6,1036.3" fill="#c8a868"/>
<polygon points="2481.8,1016.7 2483.5,1017.3 2484.6,1037.5 2482.9,1037.1" fill="#8d7044"/>
<polygon points="2511.3,1025.2 2516.4,1024.8 2517.5,1045.2 2513.2,1044.3" fill="#c8a868"/>
<polygon points="2516.4,1024.8 2518.1,1025.4 2519.2,1045.6 2517.5,1045.2" fill="#8d7044"/>
<polygon points="2548.6,1033.5 2553.7,1033.1 2554.8,1053.5 2550.5,1052.7" fill="#c8a868"/>
<polygon points="2553.7,1033.1 2555.4,1033.7 2556.5,1053.9 2554.8,1053.5" fill="#8d7044"/>
<polygon points="2457.9,1031.8 2562.0,1057.3 2562.0,1185.1 2475.1,1150.5" fill="#a5a5a5"/>
<polyline points="2457.9,1031.8 2562.0,1057.3" fill="none" stroke="#c9ccd0" stroke-width="0.8"/>
</svg>
<div id="bb"></div>
<div class="bt" style="left:547.6px;top:1208.5px;height:50px;line-height:50px;font-size:31.6px;color:#f4f4f4">U-Wert: <span style="font-size:36.4px;letter-spacing:0.2px">0,151</span> <span style="font-size:18.2px;position:relative;left:2.6px;top:0.6px">W/(m²K)</span></div>
<svg class="ic" style="left:860px;top:1215px" width="40" height="40" viewBox="860 1215 40 40"><path d="M874.5 1231.3L889 1245.8" stroke="#ababab" stroke-width="4.9" stroke-linecap="round"/><circle cx="874.3" cy="1231.1" r="6.6" fill="#ababab"/><circle cx="870.6" cy="1227.4" r="3.7" fill="#525252"/><path d="M866.6 1229.6L872.6 1223.6L869 1220L863 1226Z" fill="#525252"/><circle cx="889.2" cy="1246" r="1" fill="#5a5a5a"/></svg>
<div class="bx" style="left:548.0px;top:1266.2px;width:347.0px;height:16.6px"><div class="bo" style="height:16.6px"></div><div class="bf" style="left:0.8px;width:52.2px;top:1px;height:14.6px"></div></div><div class="bx" style="left:548.0px;top:1282.8px;width:347.0px;height:5.0px"><div class="bo" style="height:5.0px"></div><div class="bg" style="top:1px;height:3.1px;background:linear-gradient(90deg,#7c9a5c 0,#7c9a5c 24.3%,#862a26 25%,#862a26 100%)"></div></div>
<div class="bt" style="left:547.8px;top:1292px;font-size:19.5px;color:#f4f4f4;">GEG 2020/24 Bestand U ≤ 0.24</div>
<div style="position:absolute;left:831.6px;top:1294px;width:22.2px;height:21.5px;background:#cfcfcf;box-shadow:inset 0 0 0 1px #b5b5b5"></div><svg class="ic" style="left:835.7px;top:1299.6px" width="14" height="13" viewBox="0 0 14 13"><path d="M0.8 0.8h12.2L6.9 12.2z" fill="#333"/></svg>
<div class="bt" style="left:547.8px;top:1331.5px;font-size:19.5px;color:#f4f4f4;">Beitrag zum Treibhauseffekt:</div>
<div class="bx" style="left:548px;top:1360.4px;width:347px;height:11px"><div class="bo" style="height:11px"></div></div>
<div class="bt" style="left:548px;top:1382.6px;font-size:17.6px;color:#a9a9a9;">sehr gut</div>
<div class="bt" style="right:1666px;top:1382.6px;font-size:17.6px;color:#a9a9a9;">mangelhaft</div>
<div class="bt" style="left:926.3px;top:1214px;font-size:19.5px;color:#f4f4f4;">Tauwasser: 0,15 kg/m²</div>
<div class="bx" style="left:926.1px;top:1243px;width:346.7px;height:11px"><div class="bo" style="height:11px"></div><div class="bf" style="left:0.8px;width:51.8px;top:1px;height:9px"></div></div><div class="bx" style="left:926.1px;top:1254px;width:346.7px;height:5.2px"><div class="bo" style="height:5.2px"></div><div class="bg" style="top:1px;height:3.3px;background:linear-gradient(90deg,#71905a 0%,#7b9752 30%,#9a973c 55%,#a5802e 75%,#9c522c 88%,#8a2a28 100%)"></div></div>
<div class="bt" style="left:926.3px;top:1271.8px;font-size:19.5px;color:#f4f4f4;">Holzfeuchte: +0,0 %</div>
<div class="bx" style="left:926.1px;top:1301px;width:346.7px;height:11px"><div class="bo" style="height:11px"></div><div class="bf" style="left:0.8px;width:3.1px;top:1px;height:9px"></div></div><div class="bx" style="left:926.1px;top:1312px;width:346.7px;height:5.2px"><div class="bo" style="height:5.2px"></div><div class="bg" style="top:1px;height:3.3px;background:linear-gradient(90deg,#7c9a58 0%,#86a055 18%,#a8a038 30%,#a8602a 42%,#9a2c2c 55%,#9a2c2c 100%)"></div></div>
<div class="bt" style="left:926.3px;top:1330.2px;font-size:19.5px;color:#f4f4f4;">Trocknungsdauer: 4 Tage</div>
<div class="bx" style="left:926.1px;top:1359px;width:346.7px;height:11px"><div class="bo" style="height:11px"></div><div class="bf" style="left:0.8px;width:14px;top:1px;height:9px"></div></div><div class="bx" style="left:926.1px;top:1370px;width:346.7px;height:5.2px"><div class="bo" style="height:5.2px"></div><div class="bg" style="top:1px;height:3.3px;background:linear-gradient(90deg,#71905a 0%,#7b9752 30%,#9a973c 55%,#a5802e 75%,#9c522c 88%,#8a2a28 100%)"></div></div>
<div class="bt" style="left:926.3px;top:1381px;font-size:17.6px;color:#a9a9a9;">sehr gut</div>
<div class="bt" style="right:1288px;top:1381px;font-size:17.6px;color:#a9a9a9;">mangelhaft</div>
<div class="bt" style="left:1303.8000000000002px;top:1214px;font-size:19.5px;color:#f4f4f4;">sd-Wert: 3,4 m</div>
<div class="bt" style="right:909.5999999999999px;top:1214px;font-size:19.5px;color:#f4f4f4;">Dicke: 44,55 cm</div>
<div class="bt" style="right:909.5999999999999px;top:1241.2px;font-size:19.5px;color:#f4f4f4;">Gewicht: 72 kg/m²</div>
<div class="bt" style="left:1303.8000000000002px;top:1271px;font-size:19.5px;color:#f4f4f4;">Oberfläche innen: 21,2°C (56%)</div>
<div class="bx" style="left:1303.6px;top:1299.6px;width:347.0px;height:11px"><div class="bo" style="height:11px"></div><div class="bf" style="left:0.8px;width:152.6px;top:1px;height:9px"></div></div><div class="bx" style="left:1303.6px;top:1310.6px;width:347.0px;height:5.2px"><div class="bo" style="height:5.2px"></div><div class="bg" style="top:1px;height:3.3px;background:linear-gradient(90deg,#9a2c2c 0%,#9a2c2c 14%,#b08a2c 24%,#a3a03c 32%,#86a055 48%,#7c9a58 100%)"></div></div>
<div class="bt" style="left:1303.8000000000002px;top:1329px;font-size:19.5px;color:#f4f4f4;">Trocknungsreserve: 1783 g/m²a</div>
<div class="bx" style="left:1303.6px;top:1357.6px;width:347.0px;height:11px"><div class="bo" style="height:11px"></div><div class="bf" style="left:0.8px;width:346.2px;top:1px;height:9px"></div></div><div class="bx" style="left:1303.6px;top:1368.6px;width:347.0px;height:5.2px"><div class="bo" style="height:5.2px"></div><div class="bg" style="top:1px;height:3.3px;background:linear-gradient(90deg,#9a2c2c 0%,#9a2c2c 44%,#b08a2c 50%,#a3a03c 56%,#86a055 66%,#7c9a58 100%)"></div></div>
<div class="bt" style="left:1304.0px;top:1380px;font-size:17.6px;color:#a9a9a9;">mangelhaft</div>
<div class="bt" style="right:909.5999999999999px;top:1380px;font-size:17.6px;color:#a9a9a9;">sehr gut</div>
<div class="bt" style="left:1682.2px;top:1214px;font-size:19.5px;color:#f4f4f4;">Temp.Ampl.Dämpfung (1/TAV): 37,6</div>
<div class="bx" style="left:1682.0px;top:1243px;width:346.5px;height:11px"><div class="bo" style="height:11px"></div><div class="bf" style="left:0.8px;width:345.7px;top:1px;height:9px"></div></div><div class="bx" style="left:1682.0px;top:1254px;width:346.5px;height:5.2px"><div class="bo" style="height:5.2px"></div><div class="bg" style="top:1px;height:3.3px;background:linear-gradient(90deg,#9a2c2c 0%,#a85a2a 6%,#b08a2c 14%,#a3a03c 24%,#86a055 40%,#7c9a58 100%)"></div></div>
<div class="bt" style="left:1682.2px;top:1271.8px;font-size:19.5px;color:#f4f4f4;">Phasenverschiebung: 14 h</div>
<div class="bx" style="left:1682.0px;top:1301px;width:346.5px;height:11px"><div class="bo" style="height:11px"></div><div class="bf" style="left:0.8px;width:259.2px;top:1px;height:9px"></div></div><div class="bx" style="left:1682.0px;top:1312px;width:346.5px;height:5.2px"><div class="bo" style="height:5.2px"></div><div class="bg" style="top:1px;height:3.3px;background:linear-gradient(90deg,#9a2c2c 0%,#a85a2a 6%,#b08a2c 14%,#a3a03c 24%,#86a055 40%,#7c9a58 100%)"></div></div>
<div class="bt" style="left:1682.2px;top:1330px;font-size:19.5px;color:#f4f4f4;">Speicherfähigkeit innen: 53 kJ/m²K</div>
<div class="bx" style="left:1682.0px;top:1359px;width:346.5px;height:11px"><div class="bo" style="height:11px"></div><div class="bf" style="left:0.8px;width:183.2px;top:1px;height:9px"></div></div><div class="bx" style="left:1682.0px;top:1370px;width:346.5px;height:5.2px"><div class="bo" style="height:5.2px"></div><div class="bg" style="top:1px;height:3.3px;background:linear-gradient(90deg,#9a2c2c 0%,#a85a2a 6%,#b08a2c 14%,#a3a03c 24%,#86a055 40%,#7c9a58 100%)"></div></div>
<div class="bt" style="left:1682.3999999999999px;top:1381px;font-size:17.6px;color:#a9a9a9;">mangelhaft</div>
<div class="bt" style="right:532px;top:1381px;font-size:17.6px;color:#a9a9a9;">sehr gut</div>
</body></html>
